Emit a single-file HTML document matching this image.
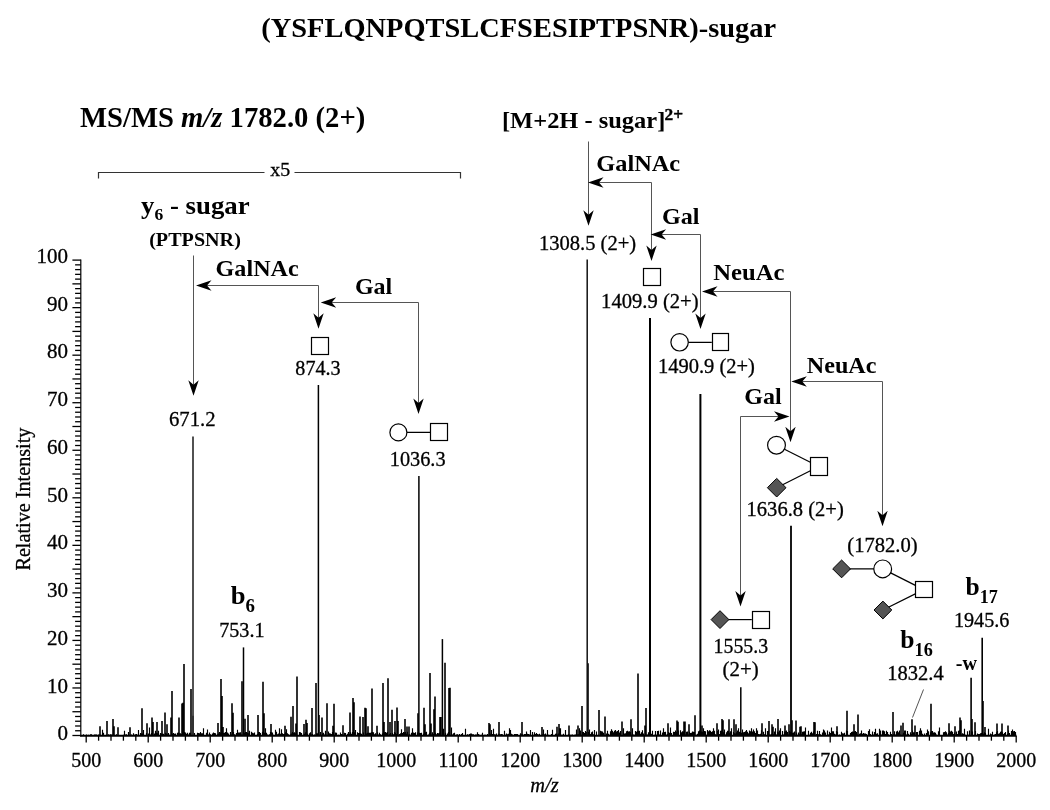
<!DOCTYPE html>
<html><head><meta charset="utf-8"><style>html,body{margin:0;padding:0;background:#fff;width:1050px;height:810px;overflow:hidden}svg{display:block;will-change:transform}text{font-family:"Liberation Serif",serif}text:not([font-weight]){stroke:#000;stroke-width:0.3px}</style></head>
<body>
<svg width="1050" height="810" viewBox="0 0 1050 810">
<rect width="1050" height="810" fill="#fff"/>
<g font-family="Liberation Serif" fill="#000">
<text transform="translate(518.70,37.35) scale(1.0043,1)" text-anchor="middle" font-size="28.3" font-weight="bold">(YSFLQNPQTSLCFSESIPTPSNR)-sugar</text>
<text transform="translate(222.65,126.60) scale(1.0054,1)" text-anchor="middle" font-size="28.5" font-weight="bold">MS/MS <tspan font-style="italic">m/z</tspan> 1782.0 (2+)</text>
<text transform="translate(592.50,127.60) scale(1.0195,1)" text-anchor="middle" font-size="24" font-weight="bold">[M+2H - sugar]<tspan font-size="17" dx="-0.8" dy="-7.8" stroke="#000" stroke-width="0.4">2+</tspan></text>
<text transform="translate(638.20,170.50) scale(1.0149,1)" text-anchor="middle" font-size="24" font-weight="bold">GalNAc</text>
<text transform="translate(680.70,224.20) scale(1.0057,1)" text-anchor="middle" font-size="24" font-weight="bold">Gal</text>
<text transform="translate(748.85,280.40) scale(1.0282,1)" text-anchor="middle" font-size="24" font-weight="bold">NeuAc</text>
<text transform="translate(841.60,372.90) scale(1.0060,1)" text-anchor="middle" font-size="24" font-weight="bold">NeuAc</text>
<text transform="translate(763.00,404.00)" text-anchor="middle" font-size="24" font-weight="bold">Gal</text>
<text transform="translate(257.15,275.90) scale(1.0062,1)" text-anchor="middle" font-size="24" font-weight="bold">GalNAc</text>
<text transform="translate(373.60,294.40)" text-anchor="middle" font-size="24" font-weight="bold">Gal</text>
<text transform="translate(195.35,213.50) scale(1.0316,1)" text-anchor="middle" font-size="26" font-weight="bold">y<tspan font-size="17" dy="6">6</tspan><tspan dy="-6"> - sugar</tspan></text>
<text transform="translate(195.00,245.70) scale(1.0880,1)" text-anchor="middle" font-size="18.5" font-weight="bold">(PTPSNR)</text>
<text transform="translate(242.95,604.00) scale(1.0222,1)" text-anchor="middle" font-size="26" font-weight="bold">b<tspan font-size="18.5" dy="8">6</tspan></text>
<text transform="translate(981.60,595.30) scale(0.9813,1)" text-anchor="middle" font-size="26" font-weight="bold">b<tspan font-size="18.5" dy="8">17</tspan></text>
<text transform="translate(916.55,648.40) scale(0.9850,1)" text-anchor="middle" font-size="26" font-weight="bold">b<tspan font-size="18.5" dy="8">16</tspan></text>
<text transform="translate(966.35,670.00) scale(1.0056,1)" text-anchor="middle" font-size="20" font-weight="bold">-w</text>
<text transform="translate(280.20,176.00) scale(1.1068,1)" text-anchor="middle" font-size="18">x5</text>
<text transform="translate(192.30,425.70) scale(0.9872,1)" text-anchor="middle" font-size="21">671.2</text>
<text transform="translate(317.95,374.90) scale(0.9589,1)" text-anchor="middle" font-size="21">874.3</text>
<text transform="translate(417.65,466.00) scale(0.9656,1)" text-anchor="middle" font-size="21">1036.3</text>
<text transform="translate(241.90,637.30) scale(0.9608,1)" text-anchor="middle" font-size="21">753.1</text>
<text transform="translate(587.55,250.10) scale(0.9802,1)" text-anchor="middle" font-size="21">1308.5 (2+)</text>
<text transform="translate(649.85,307.60) scale(0.9822,1)" text-anchor="middle" font-size="21">1409.9 (2+)</text>
<text transform="translate(706.40,373.00) scale(0.9772,1)" text-anchor="middle" font-size="21">1490.9 (2+)</text>
<text transform="translate(795.15,516.40) scale(0.9781,1)" text-anchor="middle" font-size="21">1636.8 (2+)</text>
<text transform="translate(740.85,653.00) scale(0.9438,1)" text-anchor="middle" font-size="21">1555.3</text>
<text transform="translate(740.60,676.30) scale(0.9953,1)" text-anchor="middle" font-size="21">(2+)</text>
<text transform="translate(882.45,552.20) scale(0.9815,1)" text-anchor="middle" font-size="21">(1782.0)</text>
<text transform="translate(981.65,627.10) scale(0.9620,1)" text-anchor="middle" font-size="21">1945.6</text>
<text transform="translate(915.40,680.40) scale(0.9783,1)" text-anchor="middle" font-size="21">1832.4</text>
<text transform="translate(544.50,792.40) scale(0.9718,1)" text-anchor="middle" font-size="21" font-style="italic">m/z</text>
<text transform="translate(29.80,499.10) rotate(-90) scale(1.0100,1)" text-anchor="middle" font-size="20">Relative Intensity</text>
<text x="68.0" y="740.3" font-size="21" text-anchor="end" >0</text>
<text x="68.0" y="692.6" font-size="21" text-anchor="end" >10</text>
<text x="68.0" y="644.8" font-size="21" text-anchor="end" >20</text>
<text x="68.0" y="597.0" font-size="21" text-anchor="end" >30</text>
<text x="68.0" y="549.3" font-size="21" text-anchor="end" >40</text>
<text x="68.0" y="501.6" font-size="21" text-anchor="end" >50</text>
<text x="68.0" y="453.8" font-size="21" text-anchor="end" >60</text>
<text x="68.0" y="406.1" font-size="21" text-anchor="end" >70</text>
<text x="68.0" y="358.3" font-size="21" text-anchor="end" >80</text>
<text x="68.0" y="310.6" font-size="21" text-anchor="end" >90</text>
<text x="68.0" y="262.8" font-size="21" text-anchor="end" >100</text>
<text x="86.2" y="767.3" font-size="20" text-anchor="middle" >500</text>
<text x="148.2" y="767.3" font-size="20" text-anchor="middle" >600</text>
<text x="210.2" y="767.3" font-size="20" text-anchor="middle" >700</text>
<text x="272.2" y="767.3" font-size="20" text-anchor="middle" >800</text>
<text x="334.2" y="767.3" font-size="20" text-anchor="middle" >900</text>
<text x="396.2" y="767.3" font-size="20" text-anchor="middle" >1000</text>
<text x="458.2" y="767.3" font-size="20" text-anchor="middle" >1100</text>
<text x="520.2" y="767.3" font-size="20" text-anchor="middle" >1200</text>
<text x="582.2" y="767.3" font-size="20" text-anchor="middle" >1300</text>
<text x="644.2" y="767.3" font-size="20" text-anchor="middle" >1400</text>
<text x="706.2" y="767.3" font-size="20" text-anchor="middle" >1500</text>
<text x="768.2" y="767.3" font-size="20" text-anchor="middle" >1600</text>
<text x="830.2" y="767.3" font-size="20" text-anchor="middle" >1700</text>
<text x="892.2" y="767.3" font-size="20" text-anchor="middle" >1800</text>
<text x="954.2" y="767.3" font-size="20" text-anchor="middle" >1900</text>
<text x="1016.2" y="767.3" font-size="20" text-anchor="middle" >2000</text>
</g>
<path d="M307.5 735.3V734.54M430.5 735.3V734.31M667.5 735.3V735.29M98.5 735.3V734.60M327.5 735.3V735.21M1011.5 735.3V734.35M863.5 735.3V734.32M680.5 735.3V735.22M676.5 735.3V731.64M572.5 735.3V734.57M710.5 735.3V735.29M791.5 735.3V733.73M366.5 735.3V735.30M890.5 735.3V734.34M754.5 735.3V731.54M750.5 735.3V731.13M453.5 735.3V733.29M499.5 735.3V733.83M903.5 735.3V735.27M212.5 735.3V735.22M983.5 735.3V734.49M668.5 735.3V734.94M557.5 735.3V735.20M412.5 735.3V734.38M629.5 735.3V731.29M720.5 735.3V731.05M882.5 735.3V730.40M710.5 735.3V735.21M886.5 735.3V730.68M927.5 735.3V733.85M749.5 735.3V735.14M859.5 735.3V733.83M351.5 735.3V735.30M880.5 735.3V730.41M168.5 735.3V733.87M467.5 735.3V735.29M359.5 735.3V733.49M897.5 735.3V735.29M657.5 735.3V735.29M754.5 735.3V734.86M905.5 735.3V730.51M556.5 735.3V733.51M374.5 735.3V735.29M643.5 735.3V735.30M269.5 735.3V734.93M653.5 735.3V735.22M125.5 735.3V734.52M377.5 735.3V732.15M919.5 735.3V734.71M514.5 735.3V735.05M684.5 735.3V733.70M606.5 735.3V733.55M960.5 735.3V734.18M487.5 735.3V734.63M307.5 735.3V735.13M995.5 735.3V734.11M596.5 735.3V735.30M472.5 735.3V734.95M104.5 735.3V735.02M674.5 735.3V735.29M669.5 735.3V734.37M717.5 735.3V734.80M743.5 735.3V732.74M106.5 735.3V735.30M714.5 735.3V730.69M319.5 735.3V734.81M637.5 735.3V734.89M424.5 735.3V735.11M429.5 735.3V734.34M365.5 735.3V734.99M804.5 735.3V735.30M615.5 735.3V732.76M374.5 735.3V735.22M833.5 735.3V735.09M260.5 735.3V734.86M735.5 735.3V735.27M385.5 735.3V735.07M861.5 735.3V734.49M881.5 735.3V735.20M399.5 735.3V734.11M908.5 735.3V734.43M295.5 735.3V735.28M578.5 735.3V735.17M836.5 735.3V731.91M256.5 735.3V735.16M836.5 735.3V733.41M835.5 735.3V734.82M206.5 735.3V735.14M824.5 735.3V735.02M408.5 735.3V734.91M476.5 735.3V735.18M942.5 735.3V735.22M90.5 735.3V734.29M904.5 735.3V730.44M490.5 735.3V733.76M948.5 735.3V735.12M779.5 735.3V731.92M702.5 735.3V734.12M354.5 735.3V735.06M297.5 735.3V735.30M633.5 735.3V734.98M839.5 735.3V735.29M926.5 735.3V733.06M945.5 735.3V731.37M922.5 735.3V733.81M98.5 735.3V734.80M245.5 735.3V735.13M702.5 735.3V734.09M470.5 735.3V733.81M655.5 735.3V734.83M320.5 735.3V732.89M529.5 735.3V734.44M413.5 735.3V735.24M583.5 735.3V732.10M245.5 735.3V733.35M943.5 735.3V732.19M851.5 735.3V735.30M670.5 735.3V731.69M132.5 735.3V735.28M335.5 735.3V734.59M479.5 735.3V735.11M808.5 735.3V735.30M137.5 735.3V735.29M202.5 735.3V735.30M992.5 735.3V731.76M166.5 735.3V734.85M379.5 735.3V735.11M412.5 735.3V734.12M631.5 735.3V734.77M263.5 735.3V735.08M201.5 735.3V734.49M751.5 735.3V734.70M160.5 735.3V735.27M433.5 735.3V734.31M813.5 735.3V734.70M831.5 735.3V733.54M487.5 735.3V735.21M547.5 735.3V734.67M477.5 735.3V734.70M514.5 735.3V735.27M584.5 735.3V733.05M152.5 735.3V735.01M482.5 735.3V734.07M956.5 735.3V734.72M921.5 735.3V732.32M329.5 735.3V734.79M200.5 735.3V733.21M701.5 735.3V731.46M823.5 735.3V733.24M768.5 735.3V733.88M182.5 735.3V734.37M90.5 735.3V735.30M806.5 735.3V735.29M171.5 735.3V735.29M904.5 735.3V735.19M108.5 735.3V734.58M198.5 735.3V733.01M712.5 735.3V731.93M971.5 735.3V733.80M828.5 735.3V735.30M799.5 735.3V734.16M751.5 735.3V735.26M782.5 735.3V730.99M143.5 735.3V735.15M610.5 735.3V732.00M311.5 735.3V735.25M318.5 735.3V734.26M786.5 735.3V734.66M427.5 735.3V734.95M411.5 735.3V734.90M163.5 735.3V734.86M990.5 735.3V734.59M781.5 735.3V735.21M728.5 735.3V732.60M712.5 735.3V734.13M535.5 735.3V734.82M920.5 735.3V735.22M175.5 735.3V733.61M938.5 735.3V734.13M498.5 735.3V734.63M259.5 735.3V735.17M271.5 735.3V734.38M378.5 735.3V735.21M728.5 735.3V730.80M361.5 735.3V733.84M470.5 735.3V734.18M629.5 735.3V735.03M288.5 735.3V735.30M532.5 735.3V735.20M246.5 735.3V735.03M385.5 735.3V733.45M219.5 735.3V731.88M532.5 735.3V734.91M521.5 735.3V734.25M850.5 735.3V733.92M533.5 735.3V734.63M882.5 735.3V734.63M768.5 735.3V730.73M520.5 735.3V735.28M304.5 735.3V733.77M714.5 735.3V730.74M880.5 735.3V735.08M262.5 735.3V735.18M260.5 735.3V733.84M884.5 735.3V731.34M323.5 735.3V732.86M377.5 735.3V734.89M763.5 735.3V735.28M172.5 735.3V733.71M357.5 735.3V735.03M625.5 735.3V733.19M92.5 735.3V735.25M491.5 735.3V735.09M281.5 735.3V734.38M974.5 735.3V734.67M592.5 735.3V735.25M341.5 735.3V734.04M190.5 735.3V732.71M931.5 735.3V735.27M961.5 735.3V734.72M804.5 735.3V732.59M360.5 735.3V733.99M694.5 735.3V732.19M333.5 735.3V733.57M980.5 735.3V733.21M584.5 735.3V735.26M545.5 735.3V735.22M753.5 735.3V733.17M612.5 735.3V735.18M686.5 735.3V733.49M252.5 735.3V732.69M695.5 735.3V735.25M952.5 735.3V735.23M394.5 735.3V733.76M641.5 735.3V733.93M688.5 735.3V734.40M376.5 735.3V735.25M149.5 735.3V734.22M787.5 735.3V733.99M773.5 735.3V734.77M333.5 735.3V734.98M897.5 735.3V735.30M555.5 735.3V735.27M801.5 735.3V734.79M395.5 735.3V734.94M589.5 735.3V732.47M414.5 735.3V732.99M190.5 735.3V735.17M178.5 735.3V735.29M810.5 735.3V732.82M258.5 735.3V735.25M473.5 735.3V734.56M844.5 735.3V732.65M636.5 735.3V735.23M456.5 735.3V735.24M576.5 735.3V733.86M274.5 735.3V735.19M812.5 735.3V735.30M832.5 735.3V731.42M968.5 735.3V734.69M600.5 735.3V733.77M675.5 735.3V730.55M724.5 735.3V734.95M885.5 735.3V734.29M645.5 735.3V732.82M88.5 735.3V734.75M701.5 735.3V734.25M573.5 735.3V735.12M266.5 735.3V734.59M120.5 735.3V735.15M686.5 735.3V734.46M612.5 735.3V730.74M915.5 735.3V735.24M822.5 735.3V733.53M133.5 735.3V735.24M303.5 735.3V735.29M587.5 735.3V731.04M386.5 735.3V732.83M732.5 735.3V735.24M884.5 735.3V733.67M948.5 735.3V732.90M773.5 735.3V734.82M836.5 735.3V731.02M887.5 735.3V734.49M789.5 735.3V734.28M187.5 735.3V735.30M158.5 735.3V735.26M235.5 735.3V734.69M736.5 735.3V734.02M478.5 735.3V734.81M369.5 735.3V734.79M790.5 735.3V734.63M254.5 735.3V732.61M755.5 735.3V734.75M431.5 735.3V734.59M640.5 735.3V735.11M88.5 735.3V735.29M814.5 735.3V735.23M513.5 735.3V735.29M280.5 735.3V735.26M461.5 735.3V735.29M111.5 735.3V735.30M242.5 735.3V734.71M141.5 735.3V735.30M502.5 735.3V735.18M740.5 735.3V735.29M461.5 735.3V735.19M110.5 735.3V734.22M289.5 735.3V735.29M527.5 735.3V735.29M664.5 735.3V734.81M201.5 735.3V735.30M762.5 735.3V735.01M818.5 735.3V734.37M953.5 735.3V734.94M318.5 735.3V735.17M843.5 735.3V733.50M406.5 735.3V735.29M720.5 735.3V730.63M636.5 735.3V735.30M114.5 735.3V735.30M244.5 735.3V735.30M136.5 735.3V734.43M923.5 735.3V735.15M991.5 735.3V734.32M833.5 735.3V731.16M960.5 735.3V735.30M369.5 735.3V734.30M966.5 735.3V735.28M359.5 735.3V732.97M192.5 735.3V734.97M396.5 735.3V733.97M949.5 735.3V735.19M774.5 735.3V732.77M863.5 735.3V733.94M944.5 735.3V734.76M471.5 735.3V735.28M810.5 735.3V734.30M336.5 735.3V735.26M756.5 735.3V733.64M746.5 735.3V734.68M539.5 735.3V735.29M747.5 735.3V735.30M520.5 735.3V734.51M715.5 735.3V735.27M306.5 735.3V733.01M683.5 735.3V731.54M897.5 735.3V734.44M920.5 735.3V732.78M396.5 735.3V735.01M153.5 735.3V735.05M974.5 735.3V735.26M615.5 735.3V735.26M161.5 735.3V734.45M309.5 735.3V735.30M228.5 735.3V734.13M630.5 735.3V735.30M299.5 735.3V732.08M290.5 735.3V734.47M476.5 735.3V734.44M648.5 735.3V732.33M583.5 735.3V735.17M251.5 735.3V735.29M853.5 735.3V735.26M108.5 735.3V734.22M271.5 735.3V732.66M165.5 735.3V734.93M293.5 735.3V733.11M658.5 735.3V733.42M794.5 735.3V731.60M407.5 735.3V734.31M500.5 735.3V735.30M862.5 735.3V733.71M843.5 735.3V735.15M587.5 735.3V734.38M763.5 735.3V735.28M408.5 735.3V734.73M152.5 735.3V734.73M769.5 735.3V734.55M689.5 735.3V733.64M285.5 735.3V735.05M1012.5 735.3V734.85M486.5 735.3V735.30M288.5 735.3V735.26M951.5 735.3V732.83M899.5 735.3V730.45M655.5 735.3V731.02M584.5 735.3V734.56M967.5 735.3V731.30M969.5 735.3V734.29M805.5 735.3V734.61M1013.5 735.3V731.13M357.5 735.3V732.35M257.5 735.3V735.29M757.5 735.3V734.96M569.5 735.3V734.83M123.5 735.3V734.80M342.5 735.3V734.87M406.5 735.3V733.64M780.5 735.3V734.98M182.5 735.3V735.13M468.5 735.3V735.30M228.5 735.3V733.52M737.5 735.3V730.56M997.5 735.3V731.56M432.5 735.3V735.26M376.5 735.3V734.79M575.5 735.3V735.01M420.5 735.3V732.95M351.5 735.3V734.79M910.5 735.3V732.18M362.5 735.3V735.20M836.5 735.3V735.30M208.5 735.3V734.58M584.5 735.3V735.20M132.5 735.3V735.29M802.5 735.3V734.37M996.5 735.3V732.36M996.5 735.3V735.30M258.5 735.3V735.30M488.5 735.3V735.23M133.5 735.3V735.10M173.5 735.3V735.11M316.5 735.3V733.28M475.5 735.3V735.27M127.5 735.3V735.20M669.5 735.3V733.19M934.5 735.3V732.17M316.5 735.3V735.28M791.5 735.3V732.33M559.5 735.3V734.27M599.5 735.3V735.00M243.5 735.3V735.30M684.5 735.3V731.36M928.5 735.3V734.36M704.5 735.3V731.05M843.5 735.3V733.66M471.5 735.3V735.05M245.5 735.3V735.25M721.5 735.3V730.39M594.5 735.3V734.60M413.5 735.3V734.81M832.5 735.3V734.43M978.5 735.3V735.22M379.5 735.3V734.61M469.5 735.3V734.19M855.5 735.3V731.02M655.5 735.3V735.30M620.5 735.3V733.96M539.5 735.3V735.26M745.5 735.3V731.22M181.5 735.3V734.02M431.5 735.3V734.63M919.5 735.3V730.73M684.5 735.3V735.16M942.5 735.3V735.18M442.5 735.3V733.12M380.5 735.3V735.17M969.5 735.3V730.90M381.5 735.3V734.96M348.5 735.3V735.28M318.5 735.3V731.97M159.5 735.3V735.24M272.5 735.3V735.29M575.5 735.3V734.56M865.5 735.3V733.48M846.5 735.3V735.30M348.5 735.3V732.13M150.5 735.3V735.21M535.5 735.3V735.27M593.5 735.3V735.29M305.5 735.3V732.16M220.5 735.3V732.57M251.5 735.3V731.86M713.5 735.3V733.38M218.5 735.3V735.30M792.5 735.3V735.19M262.5 735.3V733.15M899.5 735.3V735.29M979.5 735.3V734.04M441.5 735.3V735.29M448.5 735.3V731.91M347.5 735.3V735.28M221.5 735.3V735.28M413.5 735.3V732.50M157.5 735.3V735.26M959.5 735.3V730.33M997.5 735.3V735.07M415.5 735.3V732.21M537.5 735.3V734.67M377.5 735.3V735.30M407.5 735.3V733.61M813.5 735.3V733.85M517.5 735.3V735.02M497.5 735.3V735.03M860.5 735.3V735.15M638.5 735.3V731.01M874.5 735.3V735.19M982.5 735.3V731.89M242.5 735.3V735.17M274.5 735.3V735.30M995.5 735.3V734.60M897.5 735.3V735.26M99.5 735.3V734.51M824.5 735.3V730.39M723.5 735.3V734.09M798.5 735.3V735.27M588.5 735.3V734.47M222.5 735.3V734.32M386.5 735.3V734.66M433.5 735.3V735.10M419.5 735.3V734.32M997.5 735.3V730.98M887.5 735.3V731.94M352.5 735.3V732.00M337.5 735.3V735.28M551.5 735.3V734.59M403.5 735.3V734.13M348.5 735.3V732.08M507.5 735.3V735.10M580.5 735.3V731.57M1003.5 735.3V734.07M496.5 735.3V734.88M150.5 735.3V735.00M874.5 735.3V732.43M141.5 735.3V733.61M443.5 735.3V731.96M427.5 735.3V735.23M596.5 735.3V731.49M487.5 735.3V734.12M747.5 735.3V734.77M365.5 735.3V734.66M457.5 735.3V735.00M692.5 735.3V731.57M629.5 735.3V735.23M290.5 735.3V735.01M657.5 735.3V735.23M162.5 735.3V735.15M349.5 735.3V735.30M587.5 735.3V731.12M583.5 735.3V732.74M856.5 735.3V731.91M935.5 735.3V734.47M720.5 735.3V735.25M904.5 735.3V734.71M528.5 735.3V734.03M352.5 735.3V735.24M851.5 735.3V733.68M165.5 735.3V735.30M412.5 735.3V735.30M860.5 735.3V735.18M341.5 735.3V734.97M561.5 735.3V735.15M670.5 735.3V733.30M491.5 735.3V735.30M996.5 735.3V733.08M163.5 735.3V734.98M786.5 735.3V730.39M147.5 735.3V735.30M532.5 735.3V735.16M917.5 735.3V732.01M394.5 735.3V734.90M628.5 735.3V731.49M273.5 735.3V734.96M168.5 735.3V734.48M110.5 735.3V734.32M573.5 735.3V734.96M165.5 735.3V735.24M522.5 735.3V734.17M587.5 735.3V734.98M999.5 735.3V733.29M577.5 735.3V735.15M363.5 735.3V732.61M209.5 735.3V734.58M662.5 735.3V734.79M800.5 735.3V731.24M883.5 735.3V732.74M275.5 735.3V735.30M488.5 735.3V735.25M266.5 735.3V732.82M287.5 735.3V733.15M958.5 735.3V735.25M935.5 735.3V734.64M283.5 735.3V735.25M121.5 735.3V735.15M443.5 735.3V732.96M860.5 735.3V735.29M459.5 735.3V735.19M251.5 735.3V735.19M331.5 735.3V733.90M402.5 735.3V735.29M291.5 735.3V734.84M611.5 735.3V735.07M736.5 735.3V735.13M709.5 735.3V733.62M249.5 735.3V733.59M452.5 735.3V734.55M642.5 735.3V733.50M497.5 735.3V735.30M817.5 735.3V731.72M541.5 735.3V734.95M335.5 735.3V732.62M723.5 735.3V735.12M846.5 735.3V730.45M407.5 735.3V731.84M535.5 735.3V735.29M752.5 735.3V734.84M767.5 735.3V733.77M186.5 735.3V734.59M877.5 735.3V734.32M587.5 735.3V731.68M501.5 735.3V735.08M628.5 735.3V732.04M275.5 735.3V735.29M793.5 735.3V733.94M367.5 735.3V732.67M908.5 735.3V734.00M1005.5 735.3V731.93M781.5 735.3V734.97M96.5 735.3V734.93M769.5 735.3V734.80M531.5 735.3V734.97M318.5 735.3V733.88M609.5 735.3V734.69M188.5 735.3V734.50M383.5 735.3V733.73M246.5 735.3V734.96M268.5 735.3V734.93M622.5 735.3V735.26M137.5 735.3V734.90M273.5 735.3V734.67M241.5 735.3V735.29M585.5 735.3V731.11M893.5 735.3V734.14M455.5 735.3V735.30M343.5 735.3V735.11M961.5 735.3V735.26M967.5 735.3V734.32M489.5 735.3V735.27M981.5 735.3V735.18M617.5 735.3V734.16M271.5 735.3V735.22M1002.5 735.3V732.32M768.5 735.3V731.31M177.5 735.3V733.85M784.5 735.3V735.11M511.5 735.3V733.63M390.5 735.3V733.52M239.5 735.3V734.03M336.5 735.3V734.65M432.5 735.3V732.83M778.5 735.3V734.19M725.5 735.3V734.53M834.5 735.3V735.05M592.5 735.3V733.76M447.5 735.3V735.30M244.5 735.3V734.15M282.5 735.3V733.55M555.5 735.3V733.74M874.5 735.3V732.82M432.5 735.3V735.30M603.5 735.3V732.68M942.5 735.3V735.15M233.5 735.3V731.97M773.5 735.3V734.28M772.5 735.3V735.22M592.5 735.3V733.24M647.5 735.3V735.21M213.5 735.3V734.22M908.5 735.3V735.24M92.5 735.3V735.30M816.5 735.3V734.67M509.5 735.3V733.53M654.5 735.3V735.03M737.5 735.3V735.30M347.5 735.3V733.87M245.5 735.3V735.30M568.5 735.3V735.24M989.5 735.3V735.27M832.5 735.3V734.68M835.5 735.3V734.46M706.5 735.3V734.87M295.5 735.3V734.82M830.5 735.3V734.82M299.5 735.3V734.91M175.5 735.3V735.10M618.5 735.3V733.98M641.5 735.3V734.97M109.5 735.3V735.30M401.5 735.3V735.24M615.5 735.3V735.03M794.5 735.3V733.67M702.5 735.3V732.76M571.5 735.3V735.16M372.5 735.3V735.30M824.5 735.3V734.21M178.5 735.3V732.41M627.5 735.3V733.53M494.5 735.3V735.30M1015.5 735.3V735.20M426.5 735.3V731.81M199.5 735.3V734.68M532.5 735.3V735.27M945.5 735.3V734.58M96.5 735.3V735.17M90.5 735.3V734.87M894.5 735.3V731.28M130.5 735.3V734.93M369.5 735.3V734.76M365.5 735.3V735.12M209.5 735.3V734.22M168.5 735.3V733.02M126.5 735.3V734.22M264.5 735.3V735.29M778.5 735.3V734.06M801.5 735.3V734.17M672.5 735.3V735.28M712.5 735.3V734.15M980.5 735.3V735.30M149.5 735.3V734.36M947.5 735.3V734.55M747.5 735.3V733.90M449.5 735.3V734.78M645.5 735.3V735.30M370.5 735.3V733.66M326.5 735.3V734.76M324.5 735.3V735.03M691.5 735.3V732.69M975.5 735.3V734.32M274.5 735.3V735.07M140.5 735.3V735.23M629.5 735.3V733.61M310.5 735.3V735.25M177.5 735.3V735.25M552.5 735.3V735.27M907.5 735.3V733.88M402.5 735.3V734.87M123.5 735.3V734.83M784.5 735.3V734.76M760.5 735.3V735.01M290.5 735.3V735.21M269.5 735.3V734.30M683.5 735.3V732.82M182.5 735.3V733.50M530.5 735.3V735.20M553.5 735.3V735.15M272.5 735.3V734.96M686.5 735.3V732.91M936.5 735.3V735.16M914.5 735.3V732.24M749.5 735.3V730.52M214.5 735.3V733.44M922.5 735.3V735.25M639.5 735.3V730.86M358.5 735.3V732.93M928.5 735.3V734.50M221.5 735.3V735.22M857.5 735.3V734.55M379.5 735.3V734.84M949.5 735.3V735.05M103.5 735.3V734.27M380.5 735.3V734.98M993.5 735.3V734.99M165.5 735.3V733.44M312.5 735.3V735.22M958.5 735.3V735.10M924.5 735.3V734.85M368.5 735.3V735.22M590.5 735.3V733.90M456.5 735.3V734.66M363.5 735.3V733.05M954.5 735.3V732.62M848.5 735.3V735.29M318.5 735.3V735.23M230.5 735.3V732.07M927.5 735.3V731.20M604.5 735.3V735.26M483.5 735.3V735.30M927.5 735.3V735.03M354.5 735.3V732.26M272.5 735.3V732.44M375.5 735.3V734.04M185.5 735.3V732.62M456.5 735.3V735.06M694.5 735.3V733.71M319.5 735.3V735.28M621.5 735.3V735.30M896.5 735.3V734.82M243.5 735.3V735.08M192.5 735.3V735.10M591.5 735.3V734.61M396.5 735.3V735.14M538.5 735.3V734.45M493.5 735.3V734.48M534.5 735.3V735.30M244.5 735.3V732.98M531.5 735.3V735.20M565.5 735.3V734.21M435.5 735.3V735.02M426.5 735.3V735.30M592.5 735.3V734.31M547.5 735.3V735.13M525.5 735.3V734.64M259.5 735.3V731.96M192.5 735.3V732.85M248.5 735.3V733.33M328.5 735.3V735.29M588.5 735.3V731.90M872.5 735.3V731.55M997.5 735.3V735.29M438.5 735.3V735.29M788.5 735.3V734.43M778.5 735.3V732.28M1015.5 735.3V733.18M899.5 735.3V733.97M161.5 735.3V733.43M170.5 735.3V735.29M858.5 735.3V734.99M702.5 735.3V735.30M282.5 735.3V733.78M121.5 735.3V735.14M957.5 735.3V735.13M741.5 735.3V732.69M662.5 735.3V732.52M735.5 735.3V735.30M264.5 735.3V734.56M987.5 735.3V735.13M631.5 735.3V735.25M873.5 735.3V734.46M571.5 735.3V734.76M213.5 735.3V733.71M829.5 735.3V731.72M347.5 735.3V735.21M239.5 735.3V732.62M493.5 735.3V735.19M570.5 735.3V734.69M381.5 735.3V735.07M798.5 735.3V732.43M361.5 735.3V735.29M949.5 735.3V732.80M638.5 735.3V734.62M977.5 735.3V734.52M287.5 735.3V735.29M412.5 735.3V734.32M425.5 735.3V732.24M690.5 735.3V734.40M700.5 735.3V733.66M660.5 735.3V734.23M572.5 735.3V735.09M859.5 735.3V735.17M816.5 735.3V734.95M875.5 735.3V735.28M537.5 735.3V735.14M747.5 735.3V735.15M330.5 735.3V735.28M608.5 735.3V733.81M86.5 735.3V735.29M271.5 735.3V732.16M509.5 735.3V734.97M355.5 735.3V734.06M842.5 735.3V733.22M87.5 735.3V735.20M540.5 735.3V735.30M820.5 735.3V734.90M358.5 735.3V734.22M629.5 735.3V734.23M885.5 735.3V734.12M405.5 735.3V735.30M600.5 735.3V734.76M585.5 735.3V734.81M92.5 735.3V735.30M233.5 735.3V735.29M877.5 735.3V733.79M307.5 735.3V733.81M676.5 735.3V735.29M784.5 735.3V735.11M1013.5 735.3V735.23M351.5 735.3V735.19M887.5 735.3V732.08M624.5 735.3V735.22M484.5 735.3V734.68M140.5 735.3V733.27M868.5 735.3V731.02M735.5 735.3V733.57M992.5 735.3V735.03M370.5 735.3V735.28M253.5 735.3V733.31M174.5 735.3V733.63M454.5 735.3V732.77M792.5 735.3V733.11M871.5 735.3V735.30M332.5 735.3V735.01M485.5 735.3V734.76M903.5 735.3V732.72M949.5 735.3V733.05M417.5 735.3V734.66M782.5 735.3V732.11M430.5 735.3V735.04M657.5 735.3V735.11M907.5 735.3V735.30M689.5 735.3V734.28M267.5 735.3V734.44M527.5 735.3V733.70M908.5 735.3V733.75M896.5 735.3V731.49M239.5 735.3V733.12M861.5 735.3V730.40M792.5 735.3V734.66M278.5 735.3V734.09M282.5 735.3V733.55M620.5 735.3V732.02M417.5 735.3V735.12M927.5 735.3V733.28M437.5 735.3V734.48M491.5 735.3V734.82M566.5 735.3V735.26M997.5 735.3V731.48M791.5 735.3V735.00M266.5 735.3V733.70M850.5 735.3V733.34M284.5 735.3V733.76M572.5 735.3V735.21M633.5 735.3V734.44M689.5 735.3V732.63M999.5 735.3V735.26M617.5 735.3V730.88M697.5 735.3V733.79M879.5 735.3V735.30M823.5 735.3V733.53M629.5 735.3V734.92M661.5 735.3V735.25M574.5 735.3V735.27M952.5 735.3V732.20M525.5 735.3V734.53M443.5 735.3V734.61M236.5 735.3V732.91M796.5 735.3V732.57M163.5 735.3V733.78M97.5 735.3V735.08M539.5 735.3V735.30M478.5 735.3V734.04M666.5 735.3V734.91M843.5 735.3V734.79M920.5 735.3V734.63M158.5 735.3V732.97M152.5 735.3V735.22M803.5 735.3V735.26M592.5 735.3V731.72M634.5 735.3V734.81M791.5 735.3V732.02M624.5 735.3V733.51M385.5 735.3V734.93M1008.5 735.3V730.60M87.5 735.3V735.29M295.5 735.3V733.34M272.5 735.3V735.26M798.5 735.3V735.20M994.5 735.3V734.41M921.5 735.3V732.07M278.5 735.3V733.39M472.5 735.3V735.28M129.5 735.3V734.88M607.5 735.3V734.94M860.5 735.3V735.16M499.5 735.3V735.30M411.5 735.3V732.72M551.5 735.3V735.29M306.5 735.3V734.13M344.5 735.3V732.71M142.5 735.3V733.54M664.5 735.3V732.05M415.5 735.3V735.30M246.5 735.3V734.21M110.5 735.3V735.30M813.5 735.3V731.54M882.5 735.3V731.92M602.5 735.3V731.57M734.5 735.3V733.92M482.5 735.3V735.30M169.5 735.3V735.22M514.5 735.3V735.30M988.5 735.3V733.81M774.5 735.3V731.40M296.5 735.3V732.71M976.5 735.3V735.03M202.5 735.3V733.30M913.5 735.3V732.25M465.5 735.3V734.91M192.5 735.3V735.21M475.5 735.3V734.56M168.5 735.3V733.22M113.5 735.3V734.21M306.5 735.3V733.18M846.5 735.3V730.79M523.5 735.3V734.69M357.5 735.3V733.08M187.5 735.3V732.73M636.5 735.3V735.29M961.5 735.3V734.90M149.5 735.3V735.21M111.5 735.3V735.27M746.5 735.3V730.43M673.5 735.3V731.77M850.5 735.3V732.91M443.5 735.3V735.19M231.5 735.3V734.53M276.5 735.3V733.65M384.5 735.3V734.41M594.5 735.3V733.50M230.5 735.3V735.18M726.5 735.3V735.13M710.5 735.3V730.68M448.5 735.3V732.13M657.5 735.3V730.89M575.5 735.3V734.53M720.5 735.3V735.16M567.5 735.3V734.95M517.5 735.3V734.78M931.5 735.3V732.28M841.5 735.3V735.23M739.5 735.3V733.51M958.5 735.3V735.30M246.5 735.3V732.01M432.5 735.3V733.84M636.5 735.3V734.64M494.5 735.3V734.98M1002.5 735.3V734.05M820.5 735.3V734.94M747.5 735.3V733.65M777.5 735.3V731.53M160.5 735.3V733.00M653.5 735.3V735.04M517.5 735.3V735.30M301.5 735.3V733.05M747.5 735.3V731.65M237.5 735.3V735.29M438.5 735.3V734.69M747.5 735.3V734.95M771.5 735.3V733.77M354.5 735.3V733.37M154.5 735.3V734.63M260.5 735.3V735.30M530.5 735.3V735.05M655.5 735.3V734.72M950.5 735.3V732.37M229.5 735.3V735.30M979.5 735.3V734.59M183.5 735.3V735.25M737.5 735.3V735.19M433.5 735.3V733.98M413.5 735.3V734.09M967.5 735.3V732.30M670.5 735.3V733.52M374.5 735.3V734.15M689.5 735.3V733.75M542.5 735.3V734.54M276.5 735.3V733.80M996.5 735.3V735.30M320.5 735.3V731.92M162.5 735.3V733.79M626.5 735.3V735.29M671.5 735.3V735.30M875.5 735.3V734.94M945.5 735.3V731.36M213.5 735.3V734.94M227.5 735.3V733.55M174.5 735.3V735.29M194.5 735.3V732.91M315.5 735.3V735.09M501.5 735.3V735.00M470.5 735.3V733.77M402.5 735.3V734.75M887.5 735.3V735.08M247.5 735.3V733.06M379.5 735.3V732.67M850.5 735.3V734.73M395.5 735.3V735.29M898.5 735.3V734.47M404.5 735.3V735.25M296.5 735.3V732.80M207.5 735.3V734.50M667.5 735.3V734.11M553.5 735.3V735.19M264.5 735.3V733.16M920.5 735.3V733.88M320.5 735.3V732.52M273.5 735.3V735.26M668.5 735.3V731.97M618.5 735.3V735.26M996.5 735.3V735.22M405.5 735.3V731.90M822.5 735.3V732.60M156.5 735.3V733.63M458.5 735.3V735.30M819.5 735.3V731.03M130.5 735.3V735.19M924.5 735.3V734.86M367.5 735.3V733.43M496.5 735.3V733.51M882.5 735.3V731.73M743.5 735.3V735.16M724.5 735.3V733.80M535.5 735.3V734.97M370.5 735.3V735.24M934.5 735.3V734.75M184.5 735.3V732.00M561.5 735.3V734.74M401.5 735.3V735.27M395.5 735.3V733.08M340.5 735.3V732.52M369.5 735.3V732.63M252.5 735.3V734.84M206.5 735.3V735.27M572.5 735.3V735.21M585.5 735.3V735.13M374.5 735.3V735.09M921.5 735.3V735.28M473.5 735.3V734.18M618.5 735.3V735.05M1013.5 735.3V735.26M213.5 735.3V735.30M494.5 735.3V734.16M348.5 735.3V735.15M828.5 735.3V735.28M102.5 735.3V734.95M168.5 735.3V734.80M220.5 735.3V734.32M877.5 735.3V734.42M340.5 735.3V734.23M737.5 735.3V735.29M309.5 735.3V735.00M556.5 735.3V735.26M698.5 735.3V735.05M927.5 735.3V734.80M292.5 735.3V735.29M203.5 735.3V735.22M906.5 735.3V734.57M498.5 735.3V733.71M984.5 735.3V732.52M309.5 735.3V735.09M555.5 735.3V735.27M408.5 735.3V735.23M310.5 735.3V733.60M647.5 735.3V734.46M524.5 735.3V734.88M722.5 735.3V735.30M870.5 735.3V734.38M404.5 735.3V732.15M789.5 735.3V734.80M108.5 735.3V735.20M495.5 735.3V735.21M177.5 735.3V734.42M323.5 735.3V733.53M577.5 735.3V734.96M854.5 735.3V734.45M164.5 735.3V735.20M135.5 735.3V735.20M931.5 735.3V730.93M692.5 735.3V735.22M309.5 735.3V735.23M432.5 735.3V734.16M106.5 735.3V735.16M481.5 735.3V734.78M854.5 735.3V734.65M646.5 735.3V735.01M508.5 735.3V734.84M134.5 735.3V735.14M553.5 735.3V735.29M317.5 735.3V733.14M411.5 735.3V735.24M350.5 735.3V734.61M457.5 735.3V735.04M386.5 735.3V735.22M555.5 735.3V734.91M169.5 735.3V734.63M372.5 735.3V731.98M958.5 735.3V735.24M733.5 735.3V734.82M189.5 735.3V732.79M930.5 735.3V732.35M678.5 735.3V730.54M602.5 735.3V733.19M693.5 735.3V731.72M882.5 735.3V734.94M279.5 735.3V734.53M634.5 735.3V734.79M886.5 735.3V731.81M724.5 735.3V734.04M732.5 735.3V735.16M837.5 735.3V735.25M926.5 735.3V733.52M344.5 735.3V735.24M643.5 735.3V734.38M733.5 735.3V735.27M900.5 735.3V734.52M495.5 735.3V734.57M649.5 735.3V734.46M358.5 735.3V734.78M115.5 735.3V735.28M854.5 735.3V735.25M166.5 735.3V733.64M433.5 735.3V734.58M632.5 735.3V732.89M382.5 735.3V733.48M86.5 735.3V734.57M374.5 735.3V734.22M368.5 735.3V733.60M436.5 735.3V734.31M384.5 735.3V733.09M808.5 735.3V735.15M789.5 735.3V730.91M306.5 735.3V735.24M951.5 735.3V730.70M206.5 735.3V733.45M950.5 735.3V735.03M812.5 735.3V734.95M818.5 735.3V734.17M525.5 735.3V735.30M692.5 735.3V733.02M356.5 735.3V735.30M170.5 735.3V735.21M1012.5 735.3V732.69M919.5 735.3V732.65M210.5 735.3V734.98M969.5 735.3V731.79M1008.5 735.3V732.07M747.5 735.3V732.54M936.5 735.3V734.52M117.5 735.3V735.26M98.5 735.3V735.28M634.5 735.3V735.01M316.5 735.3V735.29M419.5 735.3V734.63M635.5 735.3V730.91M151.5 735.3V735.22M157.5 735.3V733.21M673.5 735.3V733.32M842.5 735.3V735.30M926.5 735.3V734.86M670.5 735.3V734.62M779.5 735.3V734.94M344.5 735.3V735.19M760.5 735.3V734.41M230.5 735.3V735.04M614.5 735.3V734.73M637.5 735.3V731.87M681.5 735.3V732.23M368.5 735.3V732.83M960.5 735.3V734.06M107.5 735.3V735.30M790.5 735.3V731.64M759.5 735.3V734.17M588.5 735.3V735.26M642.5 735.3V730.30M277.5 735.3V734.28M877.5 735.3V733.36M412.5 735.3V735.20M767.5 735.3V731.06M902.5 735.3V734.63M778.5 735.3V732.14M435.5 735.3V733.56M445.5 735.3V735.24M86.5 735.3V734.84M785.5 735.3V735.30M143.5 735.3V735.16M279.5 735.3V733.70M262.5 735.3V734.38M598.5 735.3V734.81M880.5 735.3V734.49M562.5 735.3V734.77M462.5 735.3V735.29M972.5 735.3V732.63M593.5 735.3V734.23M660.5 735.3V734.96M153.5 735.3V734.75M922.5 735.3V735.27M998.5 735.3V734.73M1014.5 735.3V732.49M339.5 735.3V735.23M912.5 735.3V730.52M834.5 735.3V733.77M591.5 735.3V732.39M851.5 735.3V731.94M354.5 735.3V733.12M972.5 735.3V733.82M94.5 735.3V735.29M691.5 735.3V734.54M939.5 735.3V733.42M736.5 735.3V735.22M574.5 735.3V734.65M938.5 735.3V731.32M331.5 735.3V734.68M996.5 735.3V735.27M151.5 735.3V735.26M766.5 735.3V734.88M744.5 735.3V732.01M837.5 735.3V735.30M726.5 735.3V732.25M739.5 735.3V731.67M846.5 735.3V733.59M891.5 735.3V733.99M186.5 735.3V735.15M953.5 735.3V734.84M524.5 735.3V734.10M723.5 735.3V732.32M523.5 735.3V735.06M157.5 735.3V735.26M233.5 735.3V734.56M575.5 735.3V735.30M676.5 735.3V735.27M444.5 735.3V735.30M527.5 735.3V735.29M960.5 735.3V734.77M857.5 735.3V734.47M390.5 735.3V733.04M341.5 735.3V734.63M680.5 735.3V730.37M740.5 735.3V735.29M510.5 735.3V733.75M880.5 735.3V734.74M205.5 735.3V735.17M790.5 735.3V735.18M915.5 735.3V735.03M727.5 735.3V733.06M311.5 735.3V734.62M670.5 735.3V735.02M580.5 735.3V733.51M976.5 735.3V734.99M247.5 735.3V734.66M641.5 735.3V734.27M934.5 735.3V735.15M558.5 735.3V735.11M270.5 735.3V734.81M506.5 735.3V735.20M805.5 735.3V730.45M987.5 735.3V735.12M432.5 735.3V732.23M163.5 735.3V735.29M146.5 735.3V733.04M556.5 735.3V735.15M177.5 735.3V732.73M1009.5 735.3V733.11M934.5 735.3V733.86M375.5 735.3V735.25M368.5 735.3V735.27M428.5 735.3V735.30M124.5 735.3V734.43M874.5 735.3V732.11M413.5 735.3V734.82M591.5 735.3V732.35M368.5 735.3V734.64M596.5 735.3V731.88M411.5 735.3V735.30M461.5 735.3V734.06M248.5 735.3V734.21M209.5 735.3V735.17M667.5 735.3V735.27M508.5 735.3V734.94M447.5 735.3V733.56M873.5 735.3V735.00M793.5 735.3V732.60M640.5 735.3V733.73M614.5 735.3V732.72M728.5 735.3V735.02M690.5 735.3V732.94M516.5 735.3V734.01M378.5 735.3V734.51M614.5 735.3V733.65M257.5 735.3V734.02M194.5 735.3V734.57M505.5 735.3V734.69M883.5 735.3V730.47M299.5 735.3V732.54M525.5 735.3V735.07M124.5 735.3V734.54M298.5 735.3V735.16M369.5 735.3V735.21M354.5 735.3V735.14M581.5 735.3V734.77M789.5 735.3V731.01M952.5 735.3V734.72M721.5 735.3V732.78M760.5 735.3V734.64M265.5 735.3V733.55M696.5 735.3V734.80M705.5 735.3V735.29M814.5 735.3V731.35M988.5 735.3V735.26M728.5 735.3V732.39M217.5 735.3V734.28M262.5 735.3V735.22M112.5 735.3V735.27M876.5 735.3V733.75M827.5 735.3V730.62M227.5 735.3V732.99M919.5 735.3V733.37M396.5 735.3V735.25M494.5 735.3V735.21M328.5 735.3V733.99M676.5 735.3V735.05M246.5 735.3V734.68M747.5 735.3V733.26M682.5 735.3V731.36M790.5 735.3V734.47M779.5 735.3V733.26M403.5 735.3V735.26M437.5 735.3V733.77M784.5 735.3V734.94M589.5 735.3V735.28M642.5 735.3V734.44M800.5 735.3V731.70M135.5 735.3V734.22M245.5 735.3V732.11M1002.5 735.3V735.12M357.5 735.3V735.27M932.5 735.3V732.59M984.5 735.3V732.18M420.5 735.3V733.46M417.5 735.3V735.08M482.5 735.3V734.68M380.5 735.3V734.48M613.5 735.3V732.29M523.5 735.3V735.17M602.5 735.3V734.39M766.5 735.3V735.26M251.5 735.3V735.30M470.5 735.3V734.20M643.5 735.3V733.45M956.5 735.3V732.06M358.5 735.3V735.22M586.5 735.3V735.10M640.5 735.3V735.28M449.5 735.3V733.75M323.5 735.3V735.27M782.5 735.3V735.17M924.5 735.3V733.60M912.5 735.3V734.05M540.5 735.3V735.27M140.5 735.3V733.08M289.5 735.3V735.29M953.5 735.3V734.03M626.5 735.3V731.15M766.5 735.3V735.04M349.5 735.3V734.08M718.5 735.3V735.11M318.5 735.3V734.65M141.5 735.3V733.85M697.5 735.3V735.22M625.5 735.3V733.72M168.5 735.3V735.00M822.5 735.3V734.42M762.5 735.3V735.10M1014.5 735.3V733.24M605.5 735.3V735.30M417.5 735.3V735.30M494.5 735.3V735.29M313.5 735.3V735.12M220.5 735.3V735.15M554.5 735.3V735.30M607.5 735.3V730.84M756.5 735.3V730.79M187.5 735.3V734.06M310.5 735.3V732.34M547.5 735.3V734.62M807.5 735.3V735.24M179.5 735.3V733.23M847.5 735.3V734.50M109.5 735.3V735.30M830.5 735.3V733.05M433.5 735.3V733.98M837.5 735.3V735.30M779.5 735.3V730.54M894.5 735.3V731.49M495.5 735.3V734.90M192.5 735.3V733.34M699.5 735.3V734.61M132.5 735.3V735.29M459.5 735.3V733.89M524.5 735.3V734.13M260.5 735.3V735.19M306.5 735.3V735.14M825.5 735.3V734.74M383.5 735.3V733.96M501.5 735.3V734.08M733.5 735.3V731.96M483.5 735.3V735.19M506.5 735.3V733.57M963.5 735.3V733.86M545.5 735.3V735.30M883.5 735.3V733.61M469.5 735.3V735.29M523.5 735.3V734.66M336.5 735.3V735.17M561.5 735.3V735.08M92.5 735.3V735.30M434.5 735.3V733.82M441.5 735.3V735.30M312.5 735.3V735.24M796.5 735.3V735.11M998.5 735.3V734.98M253.5 735.3V735.30M543.5 735.3V735.05M812.5 735.3V733.24M591.5 735.3V735.29M948.5 735.3V735.07M304.5 735.3V735.26M632.5 735.3V733.33M379.5 735.3V735.18M96.5 735.3V735.05M747.5 735.3V735.25M310.5 735.3V733.59M746.5 735.3V735.24M1004.5 735.3V732.90M751.5 735.3V734.89M984.5 735.3V734.47M678.5 735.3V730.49M862.5 735.3V735.19M207.5 735.3V735.23M197.5 735.3V732.72M590.5 735.3V734.32M429.5 735.3V734.69M492.5 735.3V734.61M472.5 735.3V734.13M872.5 735.3V731.64M783.5 735.3V735.20M478.5 735.3V734.23M417.5 735.3V734.43M282.5 735.3V733.14M396.5 735.3V735.02M846.5 735.3V735.28M92.5 735.3V735.21M499.5 735.3V735.30M451.5 735.3V733.48M907.5 735.3V731.12M825.5 735.3V735.28M426.5 735.3V734.83M112.5 735.3V734.73M344.5 735.3V733.42M714.5 735.3V735.03M404.5 735.3V734.82M267.5 735.3V735.30M478.5 735.3V735.28M322.5 735.3V733.38M776.5 735.3V734.59M109.5 735.3V734.77M330.5 735.3V735.29M785.5 735.3V731.28M324.5 735.3V734.53M911.5 735.3V734.12M410.5 735.3V735.27M111.5 735.3V734.45M840.5 735.3V735.18M686.5 735.3V735.17M780.5 735.3V734.72M733.5 735.3V734.04M162.5 735.3V734.69M694.5 735.3V735.29M120.5 735.3V735.28M757.5 735.3V730.55M501.5 735.3V734.16M746.5 735.3V735.01M500.5 735.3V734.21M534.5 735.3V735.07M757.5 735.3V735.23M513.5 735.3V735.05M613.5 735.3V733.07M338.5 735.3V734.76M514.5 735.3V735.30M817.5 735.3V730.74M606.5 735.3V734.59M429.5 735.3V734.82M430.5 735.3V735.17M968.5 735.3V734.75M284.5 735.3V734.07M91.5 735.3V735.25M607.5 735.3V732.08M367.5 735.3V735.30M985.5 735.3V735.30M475.5 735.3V735.06M1004.5 735.3V734.78M311.5 735.3V735.15M435.5 735.3V735.27M922.5 735.3V734.15M768.5 735.3V735.00M705.5 735.3V731.21M300.5 735.3V732.17M351.5 735.3V733.77M961.5 735.3V734.38M952.5 735.3V734.65M492.5 735.3V733.88M646.5 735.3V735.29M225.5 735.3V734.57M402.5 735.3V735.30M843.5 735.3V734.88M926.5 735.3V734.75M256.5 735.3V734.89M854.5 735.3V731.29M609.5 735.3V735.06M576.5 735.3V735.04M422.5 735.3V735.30M103.5 735.3V734.33M799.5 735.3V735.08M658.5 735.3V735.30M856.5 735.3V733.60M755.5 735.3V734.52M490.5 735.3V734.32M381.5 735.3V735.29M193.5 735.3V732.48M344.5 735.3V735.30M612.5 735.3V735.24M482.5 735.3V734.47M303.5 735.3V734.90M952.5 735.3V731.63M893.5 735.3V735.30M990.5 735.3V733.90M225.5 735.3V731.92M200.5 735.3V731.93M114.5 735.3V735.30M525.5 735.3V734.89M630.5 735.3V732.09M186.5 735.3V733.73M384.5 735.3V732.18M668.5 735.3V733.09M209.5 735.3V732.50M355.5 735.3V735.23M477.5 735.3V734.44M386.5 735.3V734.77M648.5 735.3V735.07M196.5 735.3V734.93M748.5 735.3V733.17M283.5 735.3V734.07M863.5 735.3V732.99M256.5 735.3V735.30M1002.5 735.3V732.95M340.5 735.3V733.64M625.5 735.3V733.49M419.5 735.3V734.02M441.5 735.3V734.98M387.5 735.3V733.67M886.5 735.3V734.97M155.5 735.3V735.22M789.5 735.3V734.78M96.5 735.3V734.58M490.5 735.3V735.30M780.5 735.3V734.17M874.5 735.3V731.94M852.5 735.3V731.51M443.5 735.3V733.24M546.5 735.3V734.80M288.5 735.3V734.22M154.5 735.3V733.58M252.5 735.3V734.44M869.5 735.3V732.01M881.5 735.3V734.54M151.5 735.3V732.89M370.5 735.3V732.87M467.5 735.3V735.15M589.5 735.3V733.98M811.5 735.3V733.75M241.5 735.3V734.58M173.5 735.3V732.94M249.5 735.3V735.02M635.5 735.3V734.83M917.5 735.3V732.30M395.5 735.3V734.88M772.5 735.3V734.16M677.5 735.3V734.84M615.5 735.3V733.72M922.5 735.3V734.80M830.5 735.3V735.13M356.5 735.3V735.21M949.5 735.3V735.27M353.5 735.3V734.77M746.5 735.3V733.29M199.5 735.3V734.97M755.5 735.3V735.23M199.5 735.3V733.14M86.5 735.3V735.30M260.5 735.3V733.07M410.5 735.3V734.88M589.5 735.3V731.42M123.5 735.3V735.29M459.5 735.3V734.82M209.5 735.3V734.86M615.5 735.3V735.29M394.5 735.3V735.30M933.5 735.3V735.30M234.5 735.3V734.27M300.5 735.3V734.42M403.5 735.3V731.88M614.5 735.3V734.79M253.5 735.3V734.74M805.5 735.3V732.90M742.5 735.3V734.13M955.5 735.3V734.64M594.5 735.3V730.78M820.5 735.3V734.33M825.5 735.3V732.48M359.5 735.3V734.95M790.5 735.3V734.73M412.5 735.3V734.56M157.5 735.3V735.21M1003.5 735.3V735.07M836.5 735.3V735.30M372.5 735.3V734.63M377.5 735.3V732.27M976.5 735.3V734.95M213.5 735.3V732.46M825.5 735.3V734.12M140.5 735.3V735.30M726.5 735.3V733.12M519.5 735.3V735.23M342.5 735.3V735.01M475.5 735.3V734.89M471.5 735.3V735.23M295.5 735.3V734.06M957.5 735.3V735.18M804.5 735.3V733.39M301.5 735.3V735.28M863.5 735.3V735.22M196.5 735.3V735.29M843.5 735.3V734.71M87.5 735.3V735.27M568.5 735.3V735.11M223.5 735.3V732.98M733.5 735.3V735.01M382.5 735.3V735.19M106.5 735.3V735.03M341.5 735.3V734.06M865.5 735.3V734.89M351.5 735.3V735.02M528.5 735.3V735.30M448.5 735.3V735.11M189.5 735.3V733.08M733.5 735.3V734.27M154.5 735.3V734.17M439.5 735.3V732.75M687.5 735.3V735.08M785.5 735.3V733.72M415.5 735.3V733.33M392.5 735.3V735.27M126.5 735.3V735.02M340.5 735.3V735.27M130.5 735.3V734.74M345.5 735.3V732.91M916.5 735.3V732.08M294.5 735.3V732.28M665.5 735.3V731.83M930.5 735.3V734.90M435.5 735.3V732.63M356.5 735.3V735.29M121.5 735.3V735.09M371.5 735.3V732.25M95.5 735.3V735.22M748.5 735.3V733.63M860.5 735.3V733.36M897.5 735.3V730.65M887.5 735.3V733.66M456.5 735.3V734.58M290.5 735.3V735.19M569.5 735.3V735.15M446.5 735.3V735.29M998.5 735.3V734.86M532.5 735.3V735.22M602.5 735.3V732.40M958.5 735.3V733.66M957.5 735.3V734.75M526.5 735.3V735.23M983.5 735.3V735.25M295.5 735.3V733.49M307.5 735.3V735.30M428.5 735.3V734.79M509.5 735.3V735.28M409.5 735.3V735.15M249.5 735.3V734.66M298.5 735.3V735.24M950.5 735.3V731.46M439.5 735.3V734.59M176.5 735.3V735.30M563.5 735.3V733.78M159.5 735.3V734.95M823.5 735.3V735.30M631.5 735.3V735.04M787.5 735.3V732.04M907.5 735.3V732.40M167.5 735.3V734.42M606.5 735.3V734.94M273.5 735.3V734.76M478.5 735.3V735.18M972.5 735.3V735.10M881.5 735.3V735.23M727.5 735.3V734.47M452.5 735.3V734.75M209.5 735.3V735.22M469.5 735.3V735.29M872.5 735.3V733.08M671.5 735.3V733.05M237.5 735.3V735.30M160.5 735.3V733.46M539.5 735.3V733.64M387.5 735.3V734.98M689.5 735.3V731.83M483.5 735.3V735.10M416.5 735.3V735.20M928.5 735.3V731.29M492.5 735.3V735.30M895.5 735.3V734.38M780.5 735.3V734.57M161.5 735.3V734.10M184.5 735.3V732.32M243.5 735.3V735.06M89.5 735.3V735.29M690.5 735.3V735.27M191.5 735.3V735.30M98.5 735.3V735.14M295.5 735.3V733.58M717.5 735.3V734.19M949.5 735.3V730.62M372.5 735.3V733.45M731.5 735.3V735.17M815.5 735.3V735.30M712.5 735.3V731.28M691.5 735.3V733.04M698.5 735.3V734.59M189.5 735.3V734.99M375.5 735.3V733.22M904.5 735.3V730.63M395.5 735.3V732.66M925.5 735.3V735.30M594.5 735.3V735.27M160.5 735.3V734.97M742.5 735.3V735.19M385.5 735.3V734.73M592.5 735.3V735.25M247.5 735.3V735.30M385.5 735.3V731.91M259.5 735.3V733.57M689.5 735.3V731.71M833.5 735.3V735.29M392.5 735.3V733.08M686.5 735.3V731.76M116.5 735.3V734.59M454.5 735.3V733.37M628.5 735.3V734.79M574.5 735.3V735.30M956.5 735.3V731.58M689.5 735.3V733.38M770.5 735.3V734.48M312.5 735.3V734.11M1000.5 735.3V731.64M828.5 735.3V735.21M375.5 735.3V735.15M610.5 735.3V731.33M663.5 735.3V733.77M483.5 735.3V735.29M332.5 735.3V731.95M930.5 735.3V733.35M724.5 735.3V735.11M107.5 735.3V735.30M102.5 735.3V735.29M998.5 735.3V733.81M290.5 735.3V735.29M102.5 735.3V735.30M212.5 735.3V735.07M231.5 735.3V735.21M667.5 735.3V735.25M212.5 735.3V733.47M347.5 735.3V734.20M351.5 735.3V733.88M95.5 735.3V735.28M889.5 735.3V734.97M678.5 735.3V735.14M185.5 735.3V734.89M511.5 735.3V735.30M577.5 735.3V734.55M420.5 735.3V733.55M912.5 735.3V734.61M369.5 735.3V733.48M791.5 735.3V734.15M656.5 735.3V734.83M760.5 735.3V733.80M884.5 735.3V734.95M148.5 735.3V733.56M630.5 735.3V732.23M780.5 735.3V732.48M421.5 735.3V732.87M659.5 735.3V734.61M242.5 735.3V735.29M300.5 735.3V735.10M393.5 735.3V734.24M978.5 735.3V733.88M704.5 735.3V735.30M733.5 735.3V734.04M809.5 735.3V734.81M684.5 735.3V734.16M812.5 735.3V734.50M853.5 735.3V731.63M578.5 735.3V734.20M742.5 735.3V734.12M988.5 735.3V731.00M548.5 735.3V734.71M184.5 735.3V732.58M661.5 735.3V735.30M95.5 735.3V734.57M812.5 735.3V733.57M462.5 735.3V735.27M535.5 735.3V733.96M672.5 735.3V735.29M278.5 735.3V735.29M890.5 735.3V731.83M947.5 735.3V734.52M380.5 735.3V735.30M323.5 735.3V735.06M447.5 735.3V735.07M763.5 735.3V731.73M438.5 735.3V733.19M357.5 735.3V735.17M827.5 735.3V735.28M156.5 735.3V732.85M524.5 735.3V735.18M803.5 735.3V731.43M430.5 735.3V733.26M206.5 735.3V732.70M470.5 735.3V735.20M100.5 735.3V735.30M449.5 735.3V735.28M700.5 735.3V730.34M354.5 735.3V733.58M629.5 735.3V733.56M808.5 735.3V734.28M856.5 735.3V735.21M720.5 735.3V734.07M270.5 735.3V735.21M967.5 735.3V733.45M548.5 735.3V735.07M875.5 735.3V733.47M292.5 735.3V732.31M875.5 735.3V732.40M745.5 735.3V733.21M387.5 735.3V732.00M748.5 735.3V735.21M839.5 735.3V734.53M142.5 735.3V733.47M295.5 735.3V734.90M174.5 735.3V734.61M586.5 735.3V732.05M972.5 735.3V731.47M708.5 735.3V734.63M958.5 735.3V735.11M380.5 735.3V734.46M428.5 735.3V734.45M194.5 735.3V735.20M105.5 735.3V735.20M309.5 735.3V733.20M323.5 735.3V735.24M752.5 735.3V735.16M866.5 735.3V734.06M219.5 735.3V733.86M1013.5 735.3V734.93M602.5 735.3V733.98M969.5 735.3V730.44M143.5 735.3V735.07M837.5 735.3V734.56M559.5 735.3V734.97M97.5 735.3V735.30M920.5 735.3V734.65M499.5 735.3V734.99M784.5 735.3V731.41M163.5 735.3V734.51M89.5 735.3V735.11M844.5 735.3V734.31M429.5 735.3V732.93M730.5 735.3V731.19M589.5 735.3V734.92M730.5 735.3V734.27M87.5 735.3V735.30M977.5 735.3V733.39M116.5 735.3V734.79M789.5 735.3V735.29M1006.5 735.3V735.19M557.5 735.3V734.65M540.5 735.3V735.22M530.5 735.3V734.85M971.5 735.3V731.52M1005.5 735.3V732.20M529.5 735.3V735.22M932.5 735.3V731.12M366.5 735.3V733.38M410.5 735.3V735.30M525.5 735.3V733.99M582.5 735.3V732.12M868.5 735.3V732.26M363.5 735.3V732.53M165.5 735.3V734.85M163.5 735.3V735.07M910.5 735.3V732.13M1009.5 735.3V733.90M569.5 735.3V735.29M537.5 735.3V733.96M402.5 735.3V732.94M368.5 735.3V733.29M263.5 735.3V732.11M195.5 735.3V735.29M619.5 735.3V732.43M747.5 735.3V734.61M750.5 735.3V735.15M390.5 735.3V735.14M296.5 735.3V735.30M284.5 735.3V734.54M651.5 735.3V734.85M654.5 735.3V734.86M838.5 735.3V735.30M804.5 735.3V731.34M624.5 735.3V733.44M999.5 735.3V735.23M174.5 735.3V734.66M758.5 735.3V734.03M537.5 735.3V735.15M514.5 735.3V734.09M150.5 735.3V734.43M172.5 735.3V733.67M329.5 735.3V733.30M383.5 735.3V734.18M559.5 735.3V733.73M525.5 735.3V735.06M552.5 735.3V735.27M961.5 735.3V734.83M226.5 735.3V735.23M754.5 735.3V731.31M637.5 735.3V730.77M294.5 735.3V732.71M800.5 735.3V735.13M172.5 735.3V735.01M475.5 735.3V735.09M756.5 735.3V735.11M323.5 735.3V735.08M236.5 735.3V734.85M643.5 735.3V735.01M212.5 735.3V733.71M166.5 735.3V733.59M657.5 735.3V735.11M94.5 735.3V734.58M106.5 735.3V734.79M582.5 735.3V733.09M272.5 735.3V733.70M323.5 735.3V734.36M983.5 735.3V733.70M234.5 735.3V735.20M465.5 735.3V734.27M827.5 735.3V734.66M631.5 735.3V734.79M542.5 735.3V735.24M965.5 735.3V734.73M380.5 735.3V734.23M290.5 735.3V735.29M499.5 735.3V734.28M427.5 735.3V735.15M355.5 735.3V734.31M336.5 735.3V734.57M561.5 735.3V735.30M385.5 735.3V733.16M282.5 735.3V733.59M156.5 735.3V734.88M479.5 735.3V734.80M90.5 735.3V735.30M461.5 735.3V733.91M552.5 735.3V734.15M580.5 735.3V730.45M158.5 735.3V733.54M324.5 735.3V735.22M575.5 735.3V735.17M1011.5 735.3V730.98M759.5 735.3V735.07M303.5 735.3V734.85M384.5 735.3V735.22M277.5 735.3V735.17M363.5 735.3V735.29M373.5 735.3V732.21M864.5 735.3V733.57M975.5 735.3V730.95M172.5 735.3V735.30M396.5 735.3V734.58M1013.5 735.3V735.30M736.5 735.3V732.30M330.5 735.3V733.50M892.5 735.3V735.27M697.5 735.3V734.34M803.5 735.3V735.22M702.5 735.3V735.30M116.5 735.3V735.20M408.5 735.3V734.87M281.5 735.3V731.84M471.5 735.3V735.08M419.5 735.3V732.75M240.5 735.3V732.37M264.5 735.3V732.79M483.5 735.3V734.91M305.5 735.3V733.18M291.5 735.3V733.38M698.5 735.3V731.35M1005.5 735.3V732.23M246.5 735.3V733.20M180.5 735.3V733.23M943.5 735.3V735.24M123.5 735.3V734.66M411.5 735.3V733.97M847.5 735.3V730.92M568.5 735.3V734.22M933.5 735.3V732.48M430.5 735.3V732.49M477.5 735.3V733.98M442.5 735.3V734.73M119.5 735.3V735.30M949.5 735.3V734.41M764.5 735.3V734.33M761.5 735.3V734.10M219.5 735.3V735.10M676.5 735.3V735.22M962.5 735.3V735.29M610.5 735.3V731.61M766.5 735.3V735.23M184.5 735.3V733.83M466.5 735.3V735.30M202.5 735.3V734.04M109.5 735.3V735.27M961.5 735.3V735.06M877.5 735.3V735.30M272.5 735.3V735.30M765.5 735.3V733.86M800.5 735.3V732.12M757.5 735.3V735.26M512.5 735.3V735.30M827.5 735.3V734.72M517.5 735.3V734.02M1007.5 735.3V733.65M445.5 735.3V732.81M871.5 735.3V735.13M508.5 735.3V733.77M1001.5 735.3V731.20M538.5 735.3V735.29M914.5 735.3V735.15M646.5 735.3V734.67M873.5 735.3V734.75M437.5 735.3V732.98M761.5 735.3V730.32M197.5 735.3V735.28M715.5 735.3V734.23M917.5 735.3V734.38M130.5 735.3V735.17M317.5 735.3V733.30M837.5 735.3V731.68M187.5 735.3V734.47M270.5 735.3V731.99M225.5 735.3V734.10M753.5 735.3V735.15M628.5 735.3V735.25M135.5 735.3V735.27M158.5 735.3V734.98M717.5 735.3V731.09M329.5 735.3V734.75M727.5 735.3V734.91M374.5 735.3V735.01M861.5 735.3V734.77M800.5 735.3V735.23M373.5 735.3V735.14M298.5 735.3V735.27M453.5 735.3V733.21M699.5 735.3V730.38M379.5 735.3V735.12M311.5 735.3V734.70M201.5 735.3V733.27M479.5 735.3V735.30M556.5 735.3V735.16M266.5 735.3V735.12M709.5 735.3V730.32M647.5 735.3V735.05M116.5 735.3V735.26M309.5 735.3V734.89M504.5 735.3V735.26M238.5 735.3V732.38M967.5 735.3V732.84M949.5 735.3V733.86M775.5 735.3V734.47M702.5 735.3V731.83M743.5 735.3V732.27M655.5 735.3V734.82M832.5 735.3V731.37M304.5 735.3V735.26M93.5 735.3V735.28M254.5 735.3V735.24M240.5 735.3V735.10M243.5 735.3V732.13M151.5 735.3V735.30M943.5 735.3V734.70M781.5 735.3V734.89M98.5 735.3V735.30M944.5 735.3V735.29M499.5 735.3V735.27M685.5 735.3V734.72M837.5 735.3V735.13M587.5 735.3V730.52M580.5 735.3V730.80M131.5 735.3V734.48M449.5 735.3V731.83M737.5 735.3V735.05M801.5 735.3V735.20M576.5 735.3V732.72M241.5 735.3V735.30M867.5 735.3V735.17M793.5 735.3V734.35M266.5 735.3V732.90M432.5 735.3V735.18M921.5 735.3V730.42M394.5 735.3V732.02M187.5 735.3V733.34M630.5 735.3V735.08M455.5 735.3V735.10M712.5 735.3V734.55M484.5 735.3V734.77M409.5 735.3V735.29M544.5 735.3V734.13M308.5 735.3V735.17M935.5 735.3V735.21M978.5 735.3V734.94M280.5 735.3V733.74M914.5 735.3V734.36M337.5 735.3V735.28M93.5 735.3V734.88M774.5 735.3V734.91M526.5 735.3V734.49M734.5 735.3V733.15M939.5 735.3V735.08M990.5 735.3V733.51M382.5 735.3V733.96M369.5 735.3V734.92M851.5 735.3V732.18M641.5 735.3V732.18M891.5 735.3V734.67M156.5 735.3V733.16M141.5 735.3V734.97M180.5 735.3V734.56M811.5 735.3V735.30M547.5 735.3V735.18M708.5 735.3V731.35M711.5 735.3V735.29M414.5 735.3V734.79M237.5 735.3V732.91M420.5 735.3V735.03M284.5 735.3V734.56M836.5 735.3V735.26M550.5 735.3V735.25M144.5 735.3V735.05M678.5 735.3V733.59M1011.5 735.3V733.00M950.5 735.3V732.82M722.5 735.3V731.35M890.5 735.3V732.61M390.5 735.3V735.15M890.5 735.3V735.30M448.5 735.3V733.05M358.5 735.3V734.69M409.5 735.3V734.15M857.5 735.3V735.29M467.5 735.3V734.17M470.5 735.3V733.62M338.5 735.3V734.67M247.5 735.3V732.84M532.5 735.3V734.29M726.5 735.3V735.04M879.5 735.3V735.29M946.5 735.3V732.37M314.5 735.3V734.42M410.5 735.3V734.77M967.5 735.3V734.42M626.5 735.3V735.29M139.5 735.3V734.91M477.5 735.3V733.83M616.5 735.3V731.44M620.5 735.3V731.02M383.5 735.3V735.30M785.5 735.3V733.33M268.5 735.3V735.22M524.5 735.3V733.99M708.5 735.3V734.51M618.5 735.3V734.81M452.5 735.3V735.25M732.5 735.3V735.30M573.5 735.3V735.30M218.5 735.3V733.54M888.5 735.3V734.16M981.5 735.3V732.95M587.5 735.3V733.64M94.5 735.3V735.30M782.5 735.3V734.72M984.5 735.3V735.05M349.5 735.3V735.23M951.5 735.3V733.98M324.5 735.3V735.30M628.5 735.3V735.30M887.5 735.3V735.21M794.5 735.3V731.69M355.5 735.3V734.38M725.5 735.3V734.41M469.5 735.3V734.06M324.5 735.3V734.46M92.5 735.3V735.08M988.5 735.3V734.65M769.5 735.3V734.87M436.5 735.3V734.96M904.5 735.3V734.88M128.5 735.3V735.10M628.5 735.3V733.64M521.5 735.3V735.25M751.5 735.3V735.07M329.5 735.3V735.25M140.5 735.3V735.25M713.5 735.3V734.65M511.5 735.3V735.28M325.5 735.3V733.93M958.5 735.3V735.23M727.5 735.3V730.73M592.5 735.3V731.39M254.5 735.3V733.39M188.5 735.3V735.22M175.5 735.3V735.30M791.5 735.3V734.80M423.5 735.3V733.69M320.5 735.3V732.91M258.5 735.3V732.01M897.5 735.3V734.21M956.5 735.3V731.85M970.5 735.3V734.96M471.5 735.3V735.25M499.5 735.3V734.99M884.5 735.3V734.87M602.5 735.3V735.00M500.5 735.3V735.30M589.5 735.3V733.58M636.5 735.3V731.63M569.5 735.3V735.26M969.5 735.3V734.62M266.5 735.3V734.65M738.5 735.3V735.03M302.5 735.3V735.29M603.5 735.3V734.72M826.5 735.3V735.21M654.5 735.3V735.22M270.5 735.3V735.28M686.5 735.3V732.79M490.5 735.3V734.29M831.5 735.3V731.66M685.5 735.3V734.44M472.5 735.3V734.39M360.5 735.3V735.20M1014.5 735.3V730.99M694.5 735.3V731.96M136.5 735.3V733.99M637.5 735.3V734.96M344.5 735.3V733.98M935.5 735.3V732.68M126.5 735.3V735.06M398.5 735.3V735.21M137.5 735.3V734.66M336.5 735.3V735.07M551.5 735.3V734.00M342.5 735.3V734.42M687.5 735.3V732.62M874.5 735.3V735.11M889.5 735.3V735.28M512.5 735.3V734.58M922.5 735.3V734.81M717.5 735.3V733.03M130.5 735.3V734.79M864.5 735.3V735.23M383.5 735.3V734.87M958.5 735.3V730.76M256.5 735.3V734.96M200.5 735.3V735.30M285.5 735.3V732.34M927.5 735.3V735.16M665.5 735.3V733.44M502.5 735.3V734.21M169.5 735.3V735.20M193.5 735.3V732.53M828.5 735.3V734.43M168.5 735.3V733.62M811.5 735.3V731.63M962.5 735.3V733.27M542.5 735.3V734.37M214.5 735.3V733.05M371.5 735.3V734.85M897.5 735.3V735.30M400.5 735.3V733.21M459.5 735.3V733.97M752.5 735.3V735.11M544.5 735.3V735.22M701.5 735.3V732.93M553.5 735.3V735.30M886.5 735.3V735.19M674.5 735.3V732.03M512.5 735.3V735.30M596.5 735.3V735.27M246.5 735.3V735.23M245.5 735.3V734.41M783.5 735.3V734.47M971.5 735.3V735.28M392.5 735.3V735.09M586.5 735.3V733.23M342.5 735.3V734.89M441.5 735.3V735.06M138.5 735.3V734.09M112.5 735.3V735.21M296.5 735.3V734.90M740.5 735.3V732.26M894.5 735.3V733.52M350.5 735.3V735.30M224.5 735.3V732.72M440.5 735.3V734.99M414.5 735.3V735.07M265.5 735.3V735.15M523.5 735.3V735.13M142.5 735.3V735.29M110.5 735.3V735.18M687.5 735.3V731.52M457.5 735.3V734.30M816.5 735.3V734.03M587.5 735.3V735.22M720.5 735.3V732.82M367.5 735.3V734.06M280.5 735.3V735.29M393.5 735.3V734.53M447.5 735.3V735.19M982.5 735.3V733.02M347.5 735.3V735.30M751.5 735.3V731.12M755.5 735.3V733.12M985.5 735.3V733.05M200.5 735.3V734.77M453.5 735.3V734.41M232.5 735.3V734.21M741.5 735.3V735.01M666.5 735.3V734.82M712.5 735.3V734.36M978.5 735.3V734.37M125.5 735.3V735.30M727.5 735.3V735.27M796.5 735.3V734.24M407.5 735.3V734.93M870.5 735.3V734.01M473.5 735.3V735.11M624.5 735.3V734.42M746.5 735.3V734.60M350.5 735.3V735.28M508.5 735.3V735.29M268.5 735.3V735.26M417.5 735.3V732.54M561.5 735.3V735.26M526.5 735.3V735.13M134.5 735.3V734.67M558.5 735.3V733.55M674.5 735.3V735.08M999.5 735.3V735.26M240.5 735.3V735.27M230.5 735.3V735.28M923.5 735.3V735.23M539.5 735.3V735.29M376.5 735.3V735.29M428.5 735.3V735.15M761.5 735.3V730.41M263.5 735.3V734.78M660.5 735.3V730.44M146.5 735.3V734.43M461.5 735.3V735.07M737.5 735.3V733.06M445.5 735.3V733.21M626.5 735.3V735.10M266.5 735.3V735.24M841.5 735.3V731.69M236.5 735.3V734.36M155.5 735.3V735.30M719.5 735.3V733.92M485.5 735.3V735.15M508.5 735.3V735.20M350.5 735.3V732.34M151.5 735.3V734.63M250.5 735.3V735.02M125.5 735.3V735.30M654.5 735.3V735.30M472.5 735.3V734.89M617.5 735.3V735.27M478.5 735.3V735.24M833.5 735.3V731.66M637.5 735.3V732.37M471.5 735.3V733.62M752.5 735.3V731.42M238.5 735.3V733.89M708.5 735.3V733.05M917.5 735.3V735.11M197.5 735.3V734.48M292.5 735.3V732.07M934.5 735.3V734.30M836.5 735.3V733.59M935.5 735.3V733.95M276.5 735.3V731.87M333.5 735.3V735.28M810.5 735.3V733.35M890.5 735.3V735.12M944.5 735.3V731.98M683.5 735.3V735.30M797.5 735.3V734.73M213.5 735.3V735.09M967.5 735.3V734.91M517.5 735.3V733.98M747.5 735.3V734.73M396.5 735.3V734.52M585.5 735.3V732.84M685.5 735.3V735.18M898.5 735.3V732.23M551.5 735.3V735.29M507.5 735.3V734.14M338.5 735.3V735.10M729.5 735.3V732.72M859.5 735.3V734.65M767.5 735.3V735.10M132.5 735.3V734.91M306.5 735.3V732.78M388.5 735.3V735.06M872.5 735.3V735.30M988.5 735.3V734.87M123.5 735.3V735.25M201.5 735.3V735.19M552.5 735.3V734.98M262.5 735.3V731.82M221.5 735.3V735.29M335.5 735.3V735.30M902.5 735.3V735.22M101.5 735.3V735.01M402.5 735.3V735.28M522.5 735.3V735.29M158.5 735.3V734.84M308.5 735.3V735.05M545.5 735.3V733.54M651.5 735.3V733.86M367.5 735.3V734.80M333.5 735.3V732.99M950.5 735.3V731.93M468.5 735.3V734.63M360.5 735.3V733.35M970.5 735.3V735.19M165.5 735.3V732.84M618.5 735.3V732.36M874.5 735.3V732.21M182.5 735.3V735.19M429.5 735.3V732.81M766.5 735.3V735.13M215.5 735.3V733.32M899.5 735.3V735.30M392.5 735.3V735.29M486.5 735.3V735.30M446.5 735.3V735.26M138.5 735.3V732.98M227.5 735.3V732.40M761.5 735.3V734.81M436.5 735.3V735.00M342.5 735.3V734.42M210.5 735.3V734.36M543.5 735.3V735.29M975.5 735.3V734.98M669.5 735.3V732.87M772.5 735.3V733.79M513.5 735.3V735.16M772.5 735.3V735.29M610.5 735.3V731.90M507.5 735.3V735.10M728.5 735.3V732.38M389.5 735.3V734.32M844.5 735.3V733.58M281.5 735.3V731.84M405.5 735.3V734.11M135.5 735.3V734.92M601.5 735.3V731.26M300.5 735.3V735.30M392.5 735.3V734.88M722.5 735.3V734.92M802.5 735.3V731.79M116.5 735.3V734.15M146.5 735.3V735.21M162.5 735.3V733.87M971.5 735.3V735.02M614.5 735.3V730.68M802.5 735.3V735.04M515.5 735.3V733.91M897.5 735.3V734.29M626.5 735.3V735.29M454.5 735.3V733.26M122.5 735.3V735.29M611.5 735.3V735.30M253.5 735.3V733.58M259.5 735.3V734.69M957.5 735.3V734.08M83.5 735.3V734.36M91.5 735.3V734.36M102.5 735.3V729.70M103.5 735.3V732.68M124.5 735.3V730.73M128.5 735.3V732.03M133.5 735.3V733.32M138.5 735.3V730.08M143.5 735.3V730.08M149.5 735.3V727.49M155.5 735.3V730.73M158.5 735.3V730.73M203.5 735.3V728.40M207.5 735.3V729.44M203.5 735.3V728.14M207.5 735.3V729.70M226.5 735.3V728.14M237.5 735.3V729.70M249.5 735.3V730.73M265.5 735.3V728.14M275.5 735.3V729.70M279.5 735.3V728.14M281.5 735.3V729.18M286.5 735.3V729.18M325.5 735.3V730.73M325.5 735.3V730.73M328.5 735.3V731.38M336.5 735.3V732.68M355.5 735.3V730.08M401.5 735.3V729.18M412.5 735.3V728.14M443.5 735.3V728.79M451.5 735.3V727.49M462.5 735.3V733.07M465.5 735.3V728.79M477.5 735.3V732.29M482.5 735.3V732.68M491.5 735.3V730.08M493.5 735.3V728.79M504.5 735.3V730.73M509.5 735.3V728.14M510.5 735.3V730.08M520.5 735.3V733.32M526.5 735.3V731.38M530.5 735.3V730.08M532.5 735.3V732.03M534.5 735.3V732.29M536.5 735.3V733.07M543.5 735.3V729.44M547.5 735.3V730.08M552.5 735.3V729.70M559.5 735.3V728.14M565.5 735.3V730.08M560.5 735.3V728.14M565.5 735.3V730.08M576.5 735.3V729.44M579.5 735.3V728.14M589.5 735.3V729.44M594.5 735.3V730.08M600.5 735.3V730.73M611.5 735.3V729.18M615.5 735.3V730.08M618.5 735.3V730.08M623.5 735.3V728.14M627.5 735.3V730.73M632.5 735.3V728.14M642.5 735.3V730.73M652.5 735.3V730.73M658.5 735.3V730.73M663.5 735.3V728.14M670.5 735.3V727.49M703.5 735.3V728.14M707.5 735.3V730.08M711.5 735.3V732.03M713.5 735.3V728.14M718.5 735.3V729.44M724.5 735.3V729.44M731.5 735.3V728.14M738.5 735.3V728.14M742.5 735.3V729.44M746.5 735.3V730.08M751.5 735.3V728.14M753.5 735.3V729.44M756.5 735.3V728.14M765.5 735.3V728.14M775.5 735.3V728.14M780.5 735.3V728.14M805.5 735.3V727.49M808.5 735.3V730.73M805.5 735.3V727.49M823.5 735.3V729.44M831.5 735.3V727.49M869.5 735.3V729.18M875.5 735.3V728.79M879.5 735.3V728.79M920.5 735.3V728.14M927.5 735.3V729.44M920.5 735.3V728.14M939.5 735.3V727.49M964.5 735.3V728.79M988.5 735.3V728.79M1012.5 735.3V729.44M1015.5 735.3V732.03" stroke="#000" stroke-width="1.15" fill="none"/><path d="M100.0 735.3V726.20M107.0 735.3V721.01M113.0 735.3V719.07M114.0 735.3V726.20M118.0 735.3V727.23M130.0 735.3V727.23M142.0 735.3V708.31M147.0 735.3V723.34M152.0 735.3V717.38M153.0 735.3V721.92M157.0 735.3V722.05M162.0 735.3V721.01M165.0 735.3V712.59M167.0 735.3V724.25M171.0 735.3V717.51M172.0 735.3V690.94M179.0 735.3V717.38M182.0 735.3V703.51M183.0 735.3V702.86M184.0 735.3V663.98M191.0 735.3V689.00M193.0 735.3V715.83M218.0 735.3V722.96M221.0 735.3V678.89M222.0 735.3V695.99M223.0 735.3V727.10M232.0 735.3V703.25M233.0 735.3V712.85M242.0 735.3V681.22M245.0 735.3V718.81M248.0 735.3V714.92M258.0 735.3V714.92M263.0 735.3V681.74M264.0 735.3V713.23M271.0 735.3V723.99M285.0 735.3V725.81M291.0 735.3V716.73M293.0 735.3V706.10M296.0 735.3V723.60M297.0 735.3V676.55M304.0 735.3V723.99M306.0 735.3V719.71M307.0 735.3V722.96M312.0 735.3V708.05M316.0 735.3V683.03M319.0 735.3V714.92M322.0 735.3V717.51M327.0 735.3V703.25M322.0 735.3V717.51M327.0 735.3V703.25M333.0 735.3V725.81M334.0 735.3V703.77M343.0 735.3V725.29M350.0 735.3V712.59M350.0 735.3V718.42M353.0 735.3V698.07M354.0 735.3V702.22M360.0 735.3V716.47M360.0 735.3V717.51M363.0 735.3V717.12M365.0 735.3V707.66M366.0 735.3V708.31M368.0 735.3V726.20M372.0 735.3V717.51M372.0 735.3V688.61M377.0 735.3V725.81M383.0 735.3V683.03M384.0 735.3V721.92M388.0 735.3V678.24M390.0 735.3V721.92M392.0 735.3V709.73M395.0 735.3V721.01M397.0 735.3V707.40M398.0 735.3V721.01M405.0 735.3V719.07M407.0 735.3V726.58M409.0 735.3V726.58M418.0 735.3V713.23M424.0 735.3V707.66M425.0 735.3V724.25M430.0 735.3V673.05M431.0 735.3V723.60M434.0 735.3V709.35M435.0 735.3V696.38M440.0 735.3V717.12M445.0 735.3V662.68M449.0 735.3V687.96M441.0 735.3V717.12M445.0 735.3V662.68M449.0 735.3V714.53M450.0 735.3V687.70M489.0 735.3V722.96M490.0 735.3V724.25M499.0 735.3V721.92M499.0 735.3V722.96M522.0 735.3V721.92M542.0 735.3V727.10M557.0 735.3V726.84M559.0 735.3V723.99M569.0 735.3V725.55M569.0 735.3V725.81M578.0 735.3V725.55M582.0 735.3V706.10M588.0 735.3V663.33M599.0 735.3V709.99M605.0 735.3V716.47M622.0 735.3V721.40M631.0 735.3V719.33M638.0 735.3V673.44M645.0 735.3V725.55M646.0 735.3V708.05M668.0 735.3V723.21M677.0 735.3V720.62M678.0 735.3V721.66M684.0 735.3V721.40M689.0 735.3V724.25M685.0 735.3V721.40M689.0 735.3V724.25M695.0 735.3V715.18M702.0 735.3V725.55M717.0 735.3V723.21M722.0 735.3V719.07M723.0 735.3V720.36M729.0 735.3V719.33M734.0 735.3V719.33M736.0 735.3V724.25M762.0 735.3V723.21M769.0 735.3V721.01M772.0 735.3V724.25M773.0 735.3V726.84M778.0 735.3V719.07M785.0 735.3V725.55M789.0 735.3V724.25M792.0 735.3V720.36M796.0 735.3V720.62M801.0 735.3V726.20M800.0 735.3V726.84M814.0 735.3V721.92M815.0 735.3V722.31M837.0 735.3V726.20M847.0 735.3V710.64M854.0 735.3V724.25M858.0 735.3V714.53M893.0 735.3V711.94M901.0 735.3V725.55M903.0 735.3V722.70M912.0 735.3V719.33M915.0 735.3V725.55M931.0 735.3V703.77M949.0 735.3V723.21M955.0 735.3V726.20M960.0 735.3V717.51M961.0 735.3V720.36M972.0 735.3V719.07M975.0 735.3V722.31M983.0 735.3V700.92M985.0 735.3V727.10M997.0 735.3V723.60M1002.0 735.3V723.60M1008.0 735.3V725.55" stroke="#000" stroke-width="1.6" fill="none"/>
<line x1="193.0" y1="735.3" x2="193.0" y2="436.4" stroke="#333" stroke-width="1.7"/><line x1="318.4" y1="735.3" x2="318.4" y2="385.0" stroke="#000" stroke-width="1.5"/><line x1="418.9" y1="735.3" x2="418.9" y2="476.0" stroke="#000" stroke-width="1.5"/><line x1="243.5" y1="735.3" x2="243.5" y2="647.4" stroke="#000" stroke-width="1.5"/><line x1="587.2" y1="735.3" x2="587.2" y2="259.6" stroke="#111" stroke-width="1.5"/><line x1="650.0" y1="735.3" x2="650.0" y2="318.0" stroke="#000" stroke-width="2.0"/><line x1="700.4" y1="735.3" x2="700.4" y2="394.0" stroke="#000" stroke-width="2.0"/><line x1="791.0" y1="735.3" x2="791.0" y2="525.8" stroke="#000" stroke-width="1.8"/><line x1="740.8" y1="735.3" x2="740.8" y2="687.2" stroke="#000" stroke-width="1.5"/><line x1="982.2" y1="735.3" x2="982.2" y2="637.8" stroke="#000" stroke-width="1.6"/><line x1="971.1" y1="735.3" x2="971.1" y2="677.8" stroke="#000" stroke-width="1.6"/><line x1="442.4" y1="735.3" x2="442.4" y2="639.1" stroke="#000" stroke-width="1.5"/>
<line x1="80.80" y1="259.50" x2="80.80" y2="736.50" stroke="#000" stroke-width="1.2"/>
<line x1="72.40" y1="735.50" x2="80.80" y2="735.50" stroke="#000" stroke-width="1.3"/>
<line x1="75.10" y1="730.75" x2="80.80" y2="730.75" stroke="#000" stroke-width="1.3"/>
<line x1="75.10" y1="725.99" x2="80.80" y2="725.99" stroke="#000" stroke-width="1.3"/>
<line x1="75.10" y1="721.24" x2="80.80" y2="721.24" stroke="#000" stroke-width="1.3"/>
<line x1="75.10" y1="716.48" x2="80.80" y2="716.48" stroke="#000" stroke-width="1.3"/>
<line x1="72.40" y1="711.73" x2="80.80" y2="711.73" stroke="#000" stroke-width="1.3"/>
<line x1="75.10" y1="706.98" x2="80.80" y2="706.98" stroke="#000" stroke-width="1.3"/>
<line x1="75.10" y1="702.22" x2="80.80" y2="702.22" stroke="#000" stroke-width="1.3"/>
<line x1="75.10" y1="697.47" x2="80.80" y2="697.47" stroke="#000" stroke-width="1.3"/>
<line x1="75.10" y1="692.71" x2="80.80" y2="692.71" stroke="#000" stroke-width="1.3"/>
<line x1="72.40" y1="687.96" x2="80.80" y2="687.96" stroke="#000" stroke-width="1.3"/>
<line x1="75.10" y1="683.21" x2="80.80" y2="683.21" stroke="#000" stroke-width="1.3"/>
<line x1="75.10" y1="678.45" x2="80.80" y2="678.45" stroke="#000" stroke-width="1.3"/>
<line x1="75.10" y1="673.70" x2="80.80" y2="673.70" stroke="#000" stroke-width="1.3"/>
<line x1="75.10" y1="668.94" x2="80.80" y2="668.94" stroke="#000" stroke-width="1.3"/>
<line x1="72.40" y1="664.19" x2="80.80" y2="664.19" stroke="#000" stroke-width="1.3"/>
<line x1="75.10" y1="659.44" x2="80.80" y2="659.44" stroke="#000" stroke-width="1.3"/>
<line x1="75.10" y1="654.68" x2="80.80" y2="654.68" stroke="#000" stroke-width="1.3"/>
<line x1="75.10" y1="649.93" x2="80.80" y2="649.93" stroke="#000" stroke-width="1.3"/>
<line x1="75.10" y1="645.17" x2="80.80" y2="645.17" stroke="#000" stroke-width="1.3"/>
<line x1="72.40" y1="640.42" x2="80.80" y2="640.42" stroke="#000" stroke-width="1.3"/>
<line x1="75.10" y1="635.67" x2="80.80" y2="635.67" stroke="#000" stroke-width="1.3"/>
<line x1="75.10" y1="630.91" x2="80.80" y2="630.91" stroke="#000" stroke-width="1.3"/>
<line x1="75.10" y1="626.16" x2="80.80" y2="626.16" stroke="#000" stroke-width="1.3"/>
<line x1="75.10" y1="621.40" x2="80.80" y2="621.40" stroke="#000" stroke-width="1.3"/>
<line x1="72.40" y1="616.65" x2="80.80" y2="616.65" stroke="#000" stroke-width="1.3"/>
<line x1="75.10" y1="611.90" x2="80.80" y2="611.90" stroke="#000" stroke-width="1.3"/>
<line x1="75.10" y1="607.14" x2="80.80" y2="607.14" stroke="#000" stroke-width="1.3"/>
<line x1="75.10" y1="602.39" x2="80.80" y2="602.39" stroke="#000" stroke-width="1.3"/>
<line x1="75.10" y1="597.63" x2="80.80" y2="597.63" stroke="#000" stroke-width="1.3"/>
<line x1="72.40" y1="592.88" x2="80.80" y2="592.88" stroke="#000" stroke-width="1.3"/>
<line x1="75.10" y1="588.13" x2="80.80" y2="588.13" stroke="#000" stroke-width="1.3"/>
<line x1="75.10" y1="583.37" x2="80.80" y2="583.37" stroke="#000" stroke-width="1.3"/>
<line x1="75.10" y1="578.62" x2="80.80" y2="578.62" stroke="#000" stroke-width="1.3"/>
<line x1="75.10" y1="573.86" x2="80.80" y2="573.86" stroke="#000" stroke-width="1.3"/>
<line x1="72.40" y1="569.11" x2="80.80" y2="569.11" stroke="#000" stroke-width="1.3"/>
<line x1="75.10" y1="564.36" x2="80.80" y2="564.36" stroke="#000" stroke-width="1.3"/>
<line x1="75.10" y1="559.60" x2="80.80" y2="559.60" stroke="#000" stroke-width="1.3"/>
<line x1="75.10" y1="554.85" x2="80.80" y2="554.85" stroke="#000" stroke-width="1.3"/>
<line x1="75.10" y1="550.09" x2="80.80" y2="550.09" stroke="#000" stroke-width="1.3"/>
<line x1="72.40" y1="545.34" x2="80.80" y2="545.34" stroke="#000" stroke-width="1.3"/>
<line x1="75.10" y1="540.59" x2="80.80" y2="540.59" stroke="#000" stroke-width="1.3"/>
<line x1="75.10" y1="535.83" x2="80.80" y2="535.83" stroke="#000" stroke-width="1.3"/>
<line x1="75.10" y1="531.08" x2="80.80" y2="531.08" stroke="#000" stroke-width="1.3"/>
<line x1="75.10" y1="526.32" x2="80.80" y2="526.32" stroke="#000" stroke-width="1.3"/>
<line x1="72.40" y1="521.57" x2="80.80" y2="521.57" stroke="#000" stroke-width="1.3"/>
<line x1="75.10" y1="516.82" x2="80.80" y2="516.82" stroke="#000" stroke-width="1.3"/>
<line x1="75.10" y1="512.06" x2="80.80" y2="512.06" stroke="#000" stroke-width="1.3"/>
<line x1="75.10" y1="507.31" x2="80.80" y2="507.31" stroke="#000" stroke-width="1.3"/>
<line x1="75.10" y1="502.55" x2="80.80" y2="502.55" stroke="#000" stroke-width="1.3"/>
<line x1="72.40" y1="497.80" x2="80.80" y2="497.80" stroke="#000" stroke-width="1.3"/>
<line x1="75.10" y1="493.05" x2="80.80" y2="493.05" stroke="#000" stroke-width="1.3"/>
<line x1="75.10" y1="488.29" x2="80.80" y2="488.29" stroke="#000" stroke-width="1.3"/>
<line x1="75.10" y1="483.54" x2="80.80" y2="483.54" stroke="#000" stroke-width="1.3"/>
<line x1="75.10" y1="478.78" x2="80.80" y2="478.78" stroke="#000" stroke-width="1.3"/>
<line x1="72.40" y1="474.03" x2="80.80" y2="474.03" stroke="#000" stroke-width="1.3"/>
<line x1="75.10" y1="469.28" x2="80.80" y2="469.28" stroke="#000" stroke-width="1.3"/>
<line x1="75.10" y1="464.52" x2="80.80" y2="464.52" stroke="#000" stroke-width="1.3"/>
<line x1="75.10" y1="459.77" x2="80.80" y2="459.77" stroke="#000" stroke-width="1.3"/>
<line x1="75.10" y1="455.01" x2="80.80" y2="455.01" stroke="#000" stroke-width="1.3"/>
<line x1="72.40" y1="450.26" x2="80.80" y2="450.26" stroke="#000" stroke-width="1.3"/>
<line x1="75.10" y1="445.51" x2="80.80" y2="445.51" stroke="#000" stroke-width="1.3"/>
<line x1="75.10" y1="440.75" x2="80.80" y2="440.75" stroke="#000" stroke-width="1.3"/>
<line x1="75.10" y1="436.00" x2="80.80" y2="436.00" stroke="#000" stroke-width="1.3"/>
<line x1="75.10" y1="431.24" x2="80.80" y2="431.24" stroke="#000" stroke-width="1.3"/>
<line x1="72.40" y1="426.49" x2="80.80" y2="426.49" stroke="#000" stroke-width="1.3"/>
<line x1="75.10" y1="421.74" x2="80.80" y2="421.74" stroke="#000" stroke-width="1.3"/>
<line x1="75.10" y1="416.98" x2="80.80" y2="416.98" stroke="#000" stroke-width="1.3"/>
<line x1="75.10" y1="412.23" x2="80.80" y2="412.23" stroke="#000" stroke-width="1.3"/>
<line x1="75.10" y1="407.47" x2="80.80" y2="407.47" stroke="#000" stroke-width="1.3"/>
<line x1="72.40" y1="402.72" x2="80.80" y2="402.72" stroke="#000" stroke-width="1.3"/>
<line x1="75.10" y1="397.97" x2="80.80" y2="397.97" stroke="#000" stroke-width="1.3"/>
<line x1="75.10" y1="393.21" x2="80.80" y2="393.21" stroke="#000" stroke-width="1.3"/>
<line x1="75.10" y1="388.46" x2="80.80" y2="388.46" stroke="#000" stroke-width="1.3"/>
<line x1="75.10" y1="383.70" x2="80.80" y2="383.70" stroke="#000" stroke-width="1.3"/>
<line x1="72.40" y1="378.95" x2="80.80" y2="378.95" stroke="#000" stroke-width="1.3"/>
<line x1="75.10" y1="374.20" x2="80.80" y2="374.20" stroke="#000" stroke-width="1.3"/>
<line x1="75.10" y1="369.44" x2="80.80" y2="369.44" stroke="#000" stroke-width="1.3"/>
<line x1="75.10" y1="364.69" x2="80.80" y2="364.69" stroke="#000" stroke-width="1.3"/>
<line x1="75.10" y1="359.93" x2="80.80" y2="359.93" stroke="#000" stroke-width="1.3"/>
<line x1="72.40" y1="355.18" x2="80.80" y2="355.18" stroke="#000" stroke-width="1.3"/>
<line x1="75.10" y1="350.43" x2="80.80" y2="350.43" stroke="#000" stroke-width="1.3"/>
<line x1="75.10" y1="345.67" x2="80.80" y2="345.67" stroke="#000" stroke-width="1.3"/>
<line x1="75.10" y1="340.92" x2="80.80" y2="340.92" stroke="#000" stroke-width="1.3"/>
<line x1="75.10" y1="336.16" x2="80.80" y2="336.16" stroke="#000" stroke-width="1.3"/>
<line x1="72.40" y1="331.41" x2="80.80" y2="331.41" stroke="#000" stroke-width="1.3"/>
<line x1="75.10" y1="326.66" x2="80.80" y2="326.66" stroke="#000" stroke-width="1.3"/>
<line x1="75.10" y1="321.90" x2="80.80" y2="321.90" stroke="#000" stroke-width="1.3"/>
<line x1="75.10" y1="317.15" x2="80.80" y2="317.15" stroke="#000" stroke-width="1.3"/>
<line x1="75.10" y1="312.39" x2="80.80" y2="312.39" stroke="#000" stroke-width="1.3"/>
<line x1="72.40" y1="307.64" x2="80.80" y2="307.64" stroke="#000" stroke-width="1.3"/>
<line x1="75.10" y1="302.89" x2="80.80" y2="302.89" stroke="#000" stroke-width="1.3"/>
<line x1="75.10" y1="298.13" x2="80.80" y2="298.13" stroke="#000" stroke-width="1.3"/>
<line x1="75.10" y1="293.38" x2="80.80" y2="293.38" stroke="#000" stroke-width="1.3"/>
<line x1="75.10" y1="288.62" x2="80.80" y2="288.62" stroke="#000" stroke-width="1.3"/>
<line x1="72.40" y1="283.87" x2="80.80" y2="283.87" stroke="#000" stroke-width="1.3"/>
<line x1="75.10" y1="279.12" x2="80.80" y2="279.12" stroke="#000" stroke-width="1.3"/>
<line x1="75.10" y1="274.36" x2="80.80" y2="274.36" stroke="#000" stroke-width="1.3"/>
<line x1="75.10" y1="269.61" x2="80.80" y2="269.61" stroke="#000" stroke-width="1.3"/>
<line x1="75.10" y1="264.85" x2="80.80" y2="264.85" stroke="#000" stroke-width="1.3"/>
<line x1="72.40" y1="260.10" x2="80.80" y2="260.10" stroke="#000" stroke-width="1.3"/>
<line x1="80.20" y1="735.80" x2="1016.60" y2="735.80" stroke="#000" stroke-width="1.9"/>
<line x1="86.20" y1="736.00" x2="86.20" y2="742.40" stroke="#000" stroke-width="1.3"/>
<line x1="98.60" y1="736.00" x2="98.60" y2="740.70" stroke="#000" stroke-width="1.3"/>
<line x1="111.00" y1="736.00" x2="111.00" y2="740.70" stroke="#000" stroke-width="1.3"/>
<line x1="123.40" y1="736.00" x2="123.40" y2="740.70" stroke="#000" stroke-width="1.3"/>
<line x1="135.80" y1="736.00" x2="135.80" y2="740.70" stroke="#000" stroke-width="1.3"/>
<line x1="148.20" y1="736.00" x2="148.20" y2="742.40" stroke="#000" stroke-width="1.3"/>
<line x1="160.60" y1="736.00" x2="160.60" y2="740.70" stroke="#000" stroke-width="1.3"/>
<line x1="173.00" y1="736.00" x2="173.00" y2="740.70" stroke="#000" stroke-width="1.3"/>
<line x1="185.40" y1="736.00" x2="185.40" y2="740.70" stroke="#000" stroke-width="1.3"/>
<line x1="197.80" y1="736.00" x2="197.80" y2="740.70" stroke="#000" stroke-width="1.3"/>
<line x1="210.20" y1="736.00" x2="210.20" y2="742.40" stroke="#000" stroke-width="1.3"/>
<line x1="222.60" y1="736.00" x2="222.60" y2="740.70" stroke="#000" stroke-width="1.3"/>
<line x1="235.00" y1="736.00" x2="235.00" y2="740.70" stroke="#000" stroke-width="1.3"/>
<line x1="247.40" y1="736.00" x2="247.40" y2="740.70" stroke="#000" stroke-width="1.3"/>
<line x1="259.80" y1="736.00" x2="259.80" y2="740.70" stroke="#000" stroke-width="1.3"/>
<line x1="272.20" y1="736.00" x2="272.20" y2="742.40" stroke="#000" stroke-width="1.3"/>
<line x1="284.60" y1="736.00" x2="284.60" y2="740.70" stroke="#000" stroke-width="1.3"/>
<line x1="297.00" y1="736.00" x2="297.00" y2="740.70" stroke="#000" stroke-width="1.3"/>
<line x1="309.40" y1="736.00" x2="309.40" y2="740.70" stroke="#000" stroke-width="1.3"/>
<line x1="321.80" y1="736.00" x2="321.80" y2="740.70" stroke="#000" stroke-width="1.3"/>
<line x1="334.20" y1="736.00" x2="334.20" y2="742.40" stroke="#000" stroke-width="1.3"/>
<line x1="346.60" y1="736.00" x2="346.60" y2="740.70" stroke="#000" stroke-width="1.3"/>
<line x1="359.00" y1="736.00" x2="359.00" y2="740.70" stroke="#000" stroke-width="1.3"/>
<line x1="371.40" y1="736.00" x2="371.40" y2="740.70" stroke="#000" stroke-width="1.3"/>
<line x1="383.80" y1="736.00" x2="383.80" y2="740.70" stroke="#000" stroke-width="1.3"/>
<line x1="396.20" y1="736.00" x2="396.20" y2="742.40" stroke="#000" stroke-width="1.3"/>
<line x1="408.60" y1="736.00" x2="408.60" y2="740.70" stroke="#000" stroke-width="1.3"/>
<line x1="421.00" y1="736.00" x2="421.00" y2="740.70" stroke="#000" stroke-width="1.3"/>
<line x1="433.40" y1="736.00" x2="433.40" y2="740.70" stroke="#000" stroke-width="1.3"/>
<line x1="445.80" y1="736.00" x2="445.80" y2="740.70" stroke="#000" stroke-width="1.3"/>
<line x1="458.20" y1="736.00" x2="458.20" y2="742.40" stroke="#000" stroke-width="1.3"/>
<line x1="470.60" y1="736.00" x2="470.60" y2="740.70" stroke="#000" stroke-width="1.3"/>
<line x1="483.00" y1="736.00" x2="483.00" y2="740.70" stroke="#000" stroke-width="1.3"/>
<line x1="495.40" y1="736.00" x2="495.40" y2="740.70" stroke="#000" stroke-width="1.3"/>
<line x1="507.80" y1="736.00" x2="507.80" y2="740.70" stroke="#000" stroke-width="1.3"/>
<line x1="520.20" y1="736.00" x2="520.20" y2="742.40" stroke="#000" stroke-width="1.3"/>
<line x1="532.60" y1="736.00" x2="532.60" y2="740.70" stroke="#000" stroke-width="1.3"/>
<line x1="545.00" y1="736.00" x2="545.00" y2="740.70" stroke="#000" stroke-width="1.3"/>
<line x1="557.40" y1="736.00" x2="557.40" y2="740.70" stroke="#000" stroke-width="1.3"/>
<line x1="569.80" y1="736.00" x2="569.80" y2="740.70" stroke="#000" stroke-width="1.3"/>
<line x1="582.20" y1="736.00" x2="582.20" y2="742.40" stroke="#000" stroke-width="1.3"/>
<line x1="594.60" y1="736.00" x2="594.60" y2="740.70" stroke="#000" stroke-width="1.3"/>
<line x1="607.00" y1="736.00" x2="607.00" y2="740.70" stroke="#000" stroke-width="1.3"/>
<line x1="619.40" y1="736.00" x2="619.40" y2="740.70" stroke="#000" stroke-width="1.3"/>
<line x1="631.80" y1="736.00" x2="631.80" y2="740.70" stroke="#000" stroke-width="1.3"/>
<line x1="644.20" y1="736.00" x2="644.20" y2="742.40" stroke="#000" stroke-width="1.3"/>
<line x1="656.60" y1="736.00" x2="656.60" y2="740.70" stroke="#000" stroke-width="1.3"/>
<line x1="669.00" y1="736.00" x2="669.00" y2="740.70" stroke="#000" stroke-width="1.3"/>
<line x1="681.40" y1="736.00" x2="681.40" y2="740.70" stroke="#000" stroke-width="1.3"/>
<line x1="693.80" y1="736.00" x2="693.80" y2="740.70" stroke="#000" stroke-width="1.3"/>
<line x1="706.20" y1="736.00" x2="706.20" y2="742.40" stroke="#000" stroke-width="1.3"/>
<line x1="718.60" y1="736.00" x2="718.60" y2="740.70" stroke="#000" stroke-width="1.3"/>
<line x1="731.00" y1="736.00" x2="731.00" y2="740.70" stroke="#000" stroke-width="1.3"/>
<line x1="743.40" y1="736.00" x2="743.40" y2="740.70" stroke="#000" stroke-width="1.3"/>
<line x1="755.80" y1="736.00" x2="755.80" y2="740.70" stroke="#000" stroke-width="1.3"/>
<line x1="768.20" y1="736.00" x2="768.20" y2="742.40" stroke="#000" stroke-width="1.3"/>
<line x1="780.60" y1="736.00" x2="780.60" y2="740.70" stroke="#000" stroke-width="1.3"/>
<line x1="793.00" y1="736.00" x2="793.00" y2="740.70" stroke="#000" stroke-width="1.3"/>
<line x1="805.40" y1="736.00" x2="805.40" y2="740.70" stroke="#000" stroke-width="1.3"/>
<line x1="817.80" y1="736.00" x2="817.80" y2="740.70" stroke="#000" stroke-width="1.3"/>
<line x1="830.20" y1="736.00" x2="830.20" y2="742.40" stroke="#000" stroke-width="1.3"/>
<line x1="842.60" y1="736.00" x2="842.60" y2="740.70" stroke="#000" stroke-width="1.3"/>
<line x1="855.00" y1="736.00" x2="855.00" y2="740.70" stroke="#000" stroke-width="1.3"/>
<line x1="867.40" y1="736.00" x2="867.40" y2="740.70" stroke="#000" stroke-width="1.3"/>
<line x1="879.80" y1="736.00" x2="879.80" y2="740.70" stroke="#000" stroke-width="1.3"/>
<line x1="892.20" y1="736.00" x2="892.20" y2="742.40" stroke="#000" stroke-width="1.3"/>
<line x1="904.60" y1="736.00" x2="904.60" y2="740.70" stroke="#000" stroke-width="1.3"/>
<line x1="917.00" y1="736.00" x2="917.00" y2="740.70" stroke="#000" stroke-width="1.3"/>
<line x1="929.40" y1="736.00" x2="929.40" y2="740.70" stroke="#000" stroke-width="1.3"/>
<line x1="941.80" y1="736.00" x2="941.80" y2="740.70" stroke="#000" stroke-width="1.3"/>
<line x1="954.20" y1="736.00" x2="954.20" y2="742.40" stroke="#000" stroke-width="1.3"/>
<line x1="966.60" y1="736.00" x2="966.60" y2="740.70" stroke="#000" stroke-width="1.3"/>
<line x1="979.00" y1="736.00" x2="979.00" y2="740.70" stroke="#000" stroke-width="1.3"/>
<line x1="991.40" y1="736.00" x2="991.40" y2="740.70" stroke="#000" stroke-width="1.3"/>
<line x1="1003.80" y1="736.00" x2="1003.80" y2="740.70" stroke="#000" stroke-width="1.3"/>
<line x1="1016.20" y1="736.00" x2="1016.20" y2="742.40" stroke="#000" stroke-width="1.3"/>
<path d="M98.5 178.5L98.5 172.5L264.5 172.5M294.5 172.5L460.5 172.5L460.5 178.5" stroke="#333" stroke-width="1.2" fill="none"/><path d="M588.5 141.5L588.5 222.5M592.5 182.5L651.5 182.5L651.5 257.5M654.5 234.5L700.5 234.5L700.5 325.5M706.5 291.5L790.5 291.5L790.5 438.5M795.5 381.5L882.5 381.5L882.5 522.5M740.5 603.5L740.5 416.5L786.5 416.5M193.5 255.5L193.5 392.5M200.5 285.5L318.5 285.5L318.5 325.5M324.5 302.5L418.5 302.5L418.5 410.5M923.5 689.5L912.5 717.5" stroke="#555" stroke-width="1" fill="none"/>
<path d="M588.5 225.8L583.3 210.3L588.5 214.8L593.7 210.3ZM588 182.5L603.5 177.3L599 182.5L603.5 187.7ZM651.5 261L646.3 245.5L651.5 250L656.7 245.5ZM650.6 234.5L666.1 229.3L661.6 234.5L666.1 239.7ZM700.5 329L695.3 313.5L700.5 318L705.7 313.5ZM702 291.5L717.5 286.3L713 291.5L717.5 296.7ZM790.5 442.3L785.3 426.8L790.5 431.3L795.7 426.8ZM791.3 381.5L806.8 376.3L802.3 381.5L806.8 386.7ZM882.5 526.3L877.3 510.79999999999995L882.5 515.3L887.7 510.79999999999995ZM789.5 416.5L774.0 411.3L778.5 416.5L774.0 421.7ZM740.5 606.6L735.3 591.1L740.5 595.6L745.7 591.1ZM193.5 395.7L188.3 380.2L193.5 384.7L198.7 380.2ZM196 285.5L211.5 280.3L207 285.5L211.5 290.7ZM318.5 328.8L313.3 313.3L318.5 317.8L323.7 313.3ZM320.7 302.5L336.2 297.3L331.7 302.5L336.2 307.7ZM418.5 413.9L413.3 398.4L418.5 402.9L423.7 398.4Z" fill="#000"/>
<rect x="311.5" y="337.5" width="17.0" height="17.0" fill="#fff" stroke="#000" stroke-width="1.2"/>
<line x1="398.4" y1="432.4" x2="430.4" y2="432.4" stroke="#000" stroke-width="1.2"/>
<circle cx="398.4" cy="432.4" r="8.5" fill="#fff" stroke="#000" stroke-width="1.2"/>
<rect x="430.5" y="423.5" width="17.0" height="17.0" fill="#fff" stroke="#000" stroke-width="1.2"/>
<rect x="643.5" y="268.5" width="17.0" height="17.0" fill="#fff" stroke="#000" stroke-width="1.2"/>
<line x1="679.6" y1="342.3" x2="711.8" y2="342.3" stroke="#000" stroke-width="1.2"/>
<circle cx="679.6" cy="342.3" r="8.7" fill="#fff" stroke="#000" stroke-width="1.2"/>
<rect x="712.5" y="333.5" width="16.0" height="17.0" fill="#fff" stroke="#000" stroke-width="1.2"/>
<line x1="776.5" y1="445.2" x2="818.8" y2="466.5" stroke="#000" stroke-width="1.2"/>
<line x1="776.7" y1="487.7" x2="818.8" y2="466.5" stroke="#000" stroke-width="1.2"/>
<circle cx="776.5" cy="445.2" r="8.9" fill="#fff" stroke="#000" stroke-width="1.2"/>
<rect x="810.5" y="457.5" width="17.0" height="18.0" fill="#fff" stroke="#000" stroke-width="1.2"/>
<path d="M776.7 478.4L786.0 487.7L776.7 497.0L767.4000000000001 487.7Z" fill="#555" stroke="#000" stroke-width="1"/>
<line x1="720" y1="619.6" x2="751.8" y2="619.6" stroke="#000" stroke-width="1.2"/>
<path d="M720 610.7L728.9 619.6L720 628.5L711.1 619.6Z" fill="#555" stroke="#000" stroke-width="1"/>
<rect x="752.5" y="611.5" width="17.0" height="17.0" fill="#fff" stroke="#000" stroke-width="1.2"/>
<line x1="841.6" y1="568.9" x2="882.7" y2="568.9" stroke="#000" stroke-width="1.2"/>
<line x1="882.7" y1="568.9" x2="923.8" y2="589.6" stroke="#000" stroke-width="1.2"/>
<line x1="882.9" y1="610" x2="923.8" y2="589.6" stroke="#000" stroke-width="1.2"/>
<path d="M841.6 560.0L850.5 568.9L841.6 577.8L832.7 568.9Z" fill="#555" stroke="#000" stroke-width="1"/>
<circle cx="882.7" cy="568.9" r="8.9" fill="#fff" stroke="#000" stroke-width="1.2"/>
<rect x="915.5" y="581.5" width="17.0" height="16.0" fill="#fff" stroke="#000" stroke-width="1.2"/>
<path d="M882.9 601.1L891.8 610L882.9 618.9L874.0 610Z" fill="#555" stroke="#000" stroke-width="1"/>
</svg>
</body></html>
